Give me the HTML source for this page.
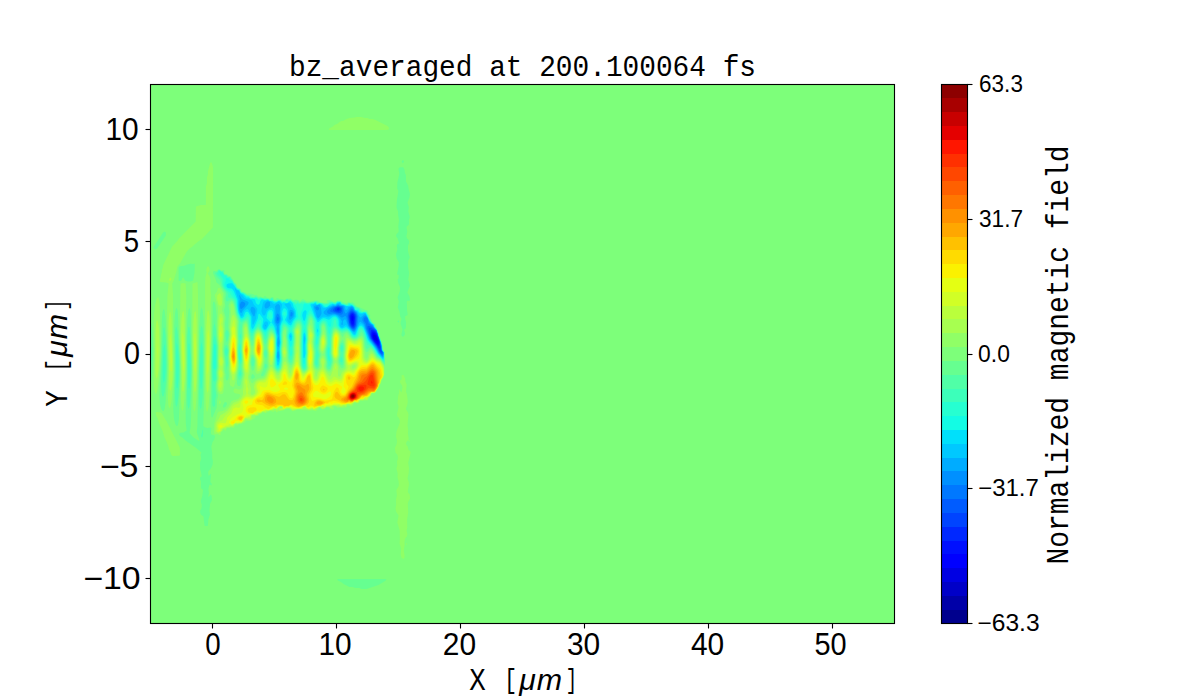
<!DOCTYPE html>
<html><head><meta charset="utf-8"><style>
html,body{margin:0;padding:0;background:#fff;width:1200px;height:700px;overflow:hidden}
svg{display:block}
</style></head><body>
<svg width="1200" height="700" viewBox="0 0 1200 700">
<rect width="1200" height="700" fill="#fff"/>
<defs><clipPath id="ax"><rect x="150.5" y="84.5" width="744" height="539"/></clipPath></defs>
<rect x="150.5" y="84.5" width="744" height="539" fill="#7dff7a"/>
<g clip-path="url(#ax)" fill-rule="evenodd" shape-rendering="geometricPrecision">
<path fill="#90ff66" d="M354.9 117.5 356.5 116.9 361.5 116.9 364.5 117.9 367.5 118.1 369.5 118.9 372.5 119.1 375.5 120.1 387.5 126.1 388.9 127.5 388.8 129.5 386.5 130.1 329.5 130.0 328.6 129.5 329.5 128.2 332.5 126.7 334.5 125.1 337.5 123.7 339.5 122.1 341.5 121.1 343.5 120.7 346.5 119.1 349.5 118.1ZM210.3 162.5 211.7 162.5 213.1 167.5 212.9 227.5 201.5 239.4 199.5 240.6 194.5 244.5 192.5 246.5 189.6 248.5 186.8 251.5 180.0 263.5 177.4 266.5 176.4 271.5 173.8 280.5 172.2 283.5 173.1 296.5 173.0 328.5 173.8 371.5 173.0 385.5 171.5 401.5 170.5 406.9 169.5 408.3 168.4 405.5 167.8 397.5 168.3 364.5 167.1 317.5 167.4 296.5 168.6 283.5 166.0 282.5 160.5 282.1 159.9 281.5 159.9 279.5 160.7 277.5 161.0 274.5 161.8 272.5 162.0 269.5 162.6 268.5 163.0 265.5 172.1 246.5 177.5 240.7 178.9 238.5 195.7 221.5 195.9 207.5 196.2 206.5 200.5 205.1 205.5 204.9 205.9 204.5 205.9 186.5 206.9 183.5 206.9 177.5 207.9 174.5 207.9 171.5ZM207.4 266.5 208.5 266.2 209.5 268.5 209.5 270.7 207.8 273.5 209.5 276.2 210.5 279.5 210.3 287.5 211.2 295.5 210.6 303.5 211.3 325.5 210.0 389.5 208.5 407.3 207.5 411.4 206.5 411.3 205.6 404.5 205.0 372.5 205.1 283.5 205.5 277.0 206.7 272.5 206.2 270.5 206.5 268.5ZM195.9 282.5 197.5 282.0 197.9 290.5 198.2 310.5 197.9 353.5 196.7 395.5 195.5 408.4 194.5 411.7 193.5 408.8 193.0 396.5 192.1 335.5 192.5 284.5 192.7 283.5ZM180.8 283.5 183.5 282.9 185.7 283.5 186.3 296.5 185.7 335.5 185.9 376.5 184.5 399.3 183.5 408.4 182.5 411.3 181.5 407.9 181.0 400.5 181.1 367.5 179.8 333.5 180.5 285.5ZM217.9 288.5 218.5 287.8 219.5 287.9 221.5 290.4 223.0 293.5 223.1 299.5 223.6 304.5 222.2 308.5 222.0 310.5 223.9 315.5 224.3 317.5 223.8 323.5 224.2 328.5 224.0 337.5 222.8 349.5 223.1 355.5 224.1 361.5 223.5 368.5 224.4 374.5 223.9 378.5 224.4 384.5 223.3 392.5 222.5 393.7 220.5 394.3 219.5 393.8 218.1 391.5 217.2 386.5 217.3 383.5 218.2 378.5 217.8 372.5 218.7 367.5 218.3 361.5 218.7 347.5 217.7 335.5 217.5 324.5 218.1 308.5 214.7 295.5 215.0 294.5 217.0 291.5ZM157.4 297.5 158.6 297.5 159.6 303.5 160.6 336.5 160.6 351.5 159.8 368.5 158.5 382.7 157.5 389.7 156.5 393.5 155.5 394.1 154.3 390.5 153.7 382.5 154.4 349.5 153.8 319.5 154.2 312.5 155.0 305.5 156.5 299.2ZM231.3 303.5 232.5 303.8 233.5 306.1 234.8 313.5 236.6 318.5 237.4 321.5 237.1 326.5 237.7 340.5 237.3 348.5 237.7 365.5 237.3 369.5 236.0 375.5 235.6 380.5 234.5 385.0 233.5 386.9 232.5 386.8 230.5 385.7 229.5 383.5 230.4 376.5 229.3 369.5 229.5 363.5 228.9 356.5 229.3 350.5 228.8 344.5 230.0 334.5 229.4 327.5 230.9 312.5 230.3 305.5ZM244.7 324.5 245.5 324.0 246.5 324.6 247.5 327.3 248.3 333.5 250.2 341.5 251.7 350.5 250.5 356.2 250.0 361.5 250.4 371.5 249.4 376.5 249.8 379.5 251.5 383.0 252.5 383.2 255.5 380.0 257.5 378.8 259.5 378.3 262.5 378.1 264.5 377.1 265.5 375.6 268.5 368.5 269.1 365.5 268.4 361.5 268.4 354.5 267.6 348.5 267.6 345.5 268.0 341.5 268.8 338.5 270.5 334.5 271.5 333.9 272.5 334.3 273.5 335.7 274.5 339.5 274.6 349.5 272.9 365.5 273.2 367.5 274.3 369.5 276.5 372.4 277.5 373.1 278.5 373.0 280.5 370.7 281.9 367.5 283.3 359.5 282.3 353.5 282.2 349.5 283.3 343.5 283.6 337.5 284.5 334.7 285.7 340.5 285.8 345.5 286.9 351.5 286.4 358.5 286.6 360.5 289.5 367.4 290.5 368.2 291.5 367.2 293.7 362.5 294.9 353.5 294.8 347.5 295.4 342.5 295.5 337.5 294.9 330.5 295.5 328.6 297.5 326.3 298.5 326.1 299.5 327.1 300.2 330.5 299.6 343.5 299.7 357.5 300.3 365.5 301.4 369.5 302.5 371.4 303.5 372.2 304.5 372.2 305.6 371.5 307.1 369.5 307.6 367.5 307.2 359.5 307.8 352.5 307.6 345.5 308.4 339.5 308.1 334.5 308.5 328.5 309.5 325.6 310.5 325.0 311.5 326.5 313.6 335.5 312.8 341.5 312.9 345.5 313.9 352.5 313.5 364.9 314.5 368.2 316.5 370.5 317.5 370.4 318.5 369.7 320.2 367.5 320.6 365.5 320.2 360.5 320.8 358.5 322.5 355.6 323.5 355.9 325.1 359.5 325.4 361.5 325.0 366.5 326.5 370.4 328.5 372.5 329.5 372.7 330.5 372.0 331.5 370.3 334.0 361.5 331.9 353.5 332.3 337.5 333.1 333.5 334.0 331.5 335.5 330.2 336.5 330.3 338.8 332.5 339.9 334.5 340.6 337.5 340.6 339.5 338.8 347.5 339.1 354.5 337.2 361.5 339.5 369.0 340.5 370.3 341.5 370.3 343.5 369.3 344.5 368.2 345.0 366.5 344.5 355.5 345.2 346.5 344.7 339.5 345.5 335.9 346.5 334.9 347.5 335.2 351.5 339.2 354.5 340.5 356.5 340.0 360.5 337.5 361.5 337.5 362.5 338.5 363.2 340.5 363.9 348.5 365.1 353.5 365.5 357.2 366.3 358.5 367.5 357.6 368.3 354.5 369.5 352.5 370.5 351.4 371.5 351.2 372.5 351.9 376.5 358.1 380.5 360.2 383.5 364.5 384.4 367.5 384.4 374.5 384.3 375.5 383.5 376.5 383.2 378.5 381.5 380.8 381.0 383.5 379.5 385.4 379.4 386.5 377.9 389.5 375.7 392.5 374.5 393.4 372.0 393.5 371.4 395.5 369.4 397.5 368.4 399.5 367.5 400.4 364.5 400.4 362.5 401.1 360.5 401.1 358.5 403.2 354.5 403.2 353.5 403.7 352.5 405.9 351.5 406.4 348.5 405.7 347.5 406.1 346.5 407.5 344.5 407.5 343.5 407.9 339.5 407.4 337.5 408.0 335.8 406.5 333.5 406.5 334.2 408.5 332.5 409.8 330.5 409.0 328.7 407.5 326.5 407.8 324.5 409.3 323.5 409.4 321.5 409.3 319.5 407.8 318.5 409.2 315.5 411.2 312.5 410.2 309.5 410.8 307.5 410.3 302.5 410.2 300.5 409.5 297.5 409.6 294.5 411.1 292.5 411.3 290.0 409.5 288.5 409.1 285.4 409.5 283.5 410.4 278.5 411.3 276.5 412.4 275.5 411.0 274.5 410.9 273.5 411.9 270.5 411.0 269.5 411.2 265.5 413.3 264.0 412.5 262.5 412.5 261.5 413.7 259.5 414.4 259.1 415.5 258.5 415.9 255.1 416.5 255.4 417.5 254.5 418.5 251.5 420.3 249.5 421.0 246.5 420.7 245.5 421.4 244.5 422.9 238.6 424.5 237.5 425.4 236.4 425.5 235.5 424.9 234.9 426.5 233.5 428.3 231.5 427.5 229.5 428.3 227.5 428.0 226.1 429.5 225.5 431.1 223.5 429.5 223.1 430.5 220.9 432.5 220.6 433.5 220.9 434.5 219.5 435.3 217.5 434.0 215.5 434.3 214.5 433.9 213.7 431.5 214.2 423.5 217.5 412.9 218.5 411.8 219.5 411.4 222.5 411.1 225.5 409.8 228.5 406.6 231.5 401.3 233.5 400.2 237.5 399.2 238.7 398.5 240.1 396.5 240.3 395.5 239.5 393.9 236.2 393.5 234.5 392.9 233.5 391.5 233.5 390.5 234.5 388.4 235.5 388.4 238.5 389.5 239.5 389.6 240.5 389.1 241.5 387.9 242.2 385.5 242.6 380.5 243.9 375.5 244.0 373.5 242.9 367.5 243.0 361.5 242.2 348.5 242.6 341.5 243.6 334.5 243.4 328.5 243.8 326.5ZM323.4 330.5 323.5 329.7 325.5 335.9 326.2 342.5 325.8 345.5 323.5 353.3 322.5 354.1 320.5 350.9 319.9 347.5 320.5 339.0ZM256.8 331.5 257.5 330.9 258.5 330.8 259.5 331.3 261.1 333.5 262.3 337.5 263.9 347.5 263.3 353.5 263.8 360.5 262.3 368.5 260.5 372.2 258.5 373.8 257.5 374.0 256.3 373.5 255.3 371.5 255.7 360.5 253.0 352.5 252.7 350.5 253.9 344.5 254.5 336.5 255.5 333.5ZM401.5 375.5 402.5 375.0 403.5 375.1 403.8 375.5 405.1 378.5 405.4 381.5 406.7 384.5 406.0 391.5 407.0 394.5 407.8 401.5 407.4 404.5 406.0 408.5 406.1 409.5 408.0 412.5 408.5 414.5 407.5 425.5 408.2 429.5 407.9 433.5 408.6 437.5 408.5 440.4 409.5 439.7 409.6 441.5 409.5 441.9 408.9 441.5 408.5 440.6 407.5 440.7 406.5 442.0 406.1 443.5 406.2 444.5 407.7 446.5 408.4 449.5 410.3 451.5 410.7 452.5 408.2 462.5 409.0 468.5 408.6 473.5 407.5 478.5 408.6 481.5 409.0 484.5 407.9 490.5 408.0 492.5 409.7 494.5 410.1 498.5 408.4 501.5 407.8 503.5 408.2 512.5 407.1 519.5 407.3 527.5 406.6 530.5 407.4 534.5 406.8 536.5 405.2 538.5 404.5 541.5 404.6 545.5 403.8 550.5 404.7 556.5 404.5 557.5 403.5 559.0 401.5 557.7 400.8 554.5 401.1 548.5 399.6 543.5 399.9 538.5 399.7 530.5 397.3 522.5 398.6 515.5 396.0 511.5 395.5 508.5 396.2 504.5 396.0 499.5 396.9 495.5 396.4 490.5 396.6 489.5 398.5 486.5 398.9 484.5 398.5 480.8 397.5 477.5 397.7 473.5 396.4 468.5 397.3 465.5 397.0 461.5 397.7 459.5 397.9 457.5 397.5 455.1 395.5 452.6 395.0 448.5 395.1 447.5 396.5 444.7 396.9 442.5 397.0 440.5 396.0 436.5 396.5 431.5 399.9 422.5 399.6 419.5 398.5 417.4 397.5 416.5 397.0 414.5 398.5 407.5 398.5 406.1 397.5 403.5 398.2 395.5 398.9 393.5 399.3 389.5 399.5 389.0 400.5 391.5 401.5 392.6 402.5 387.5 402.1 385.5 400.0 382.5 400.3 380.5 401.5 379.5 401.7 378.5ZM219.4 400.5 220.5 400.8 220.8 402.5 220.5 403.7 219.5 404.3 218.9 402.5ZM155.5 412.5 156.5 411.9 157.5 411.9 160.5 412.4 161.5 413.1 166.7 421.5 179.8 447.5 180.0 454.5 179.5 455.7 173.5 456.1 172.5 455.9 171.1 454.5 170.7 452.5 169.1 449.5 167.7 444.5 164.2 436.5 162.8 431.5 159.2 423.5 157.7 418.5 156.1 415.5ZM406.3 543.5 406.5 543.1 407.0 543.5 407.0 544.5 406.5 544.9 406.2 544.5Z"/>
<path fill="#a7ff50" d="M170.4 277.5 171.4 278.5 171.5 279.6 170.5 280.7 169.1 280.5 169.5 278.5ZM219.0 293.5 219.5 293.2 220.5 293.6 221.6 296.5 222.0 303.5 221.5 305.1 220.5 305.9 219.5 305.6 218.5 304.4 217.1 298.5 217.3 295.5ZM183.1 311.5 183.5 311.0 183.8 312.5 184.5 318.8 185.4 362.5 184.8 379.5 183.5 391.5 182.5 391.4 182.2 387.5 180.7 336.5 181.5 318.8 182.5 312.3ZM195.1 311.5 195.5 311.0 195.8 312.5 196.6 320.5 197.1 354.5 196.5 380.6 195.5 391.2 194.5 392.0 193.6 375.5 193.0 337.5 193.5 321.7 194.5 312.4ZM207.5 311.5 208.5 310.5 209.5 315.9 210.5 335.5 209.3 378.5 208.5 390.1 207.5 392.9 206.5 388.5 205.8 366.5 206.3 326.5ZM169.8 312.5 170.5 312.1 171.5 319.3 173.0 360.5 172.5 378.9 171.5 387.3 170.5 391.0 169.5 388.7 169.3 385.5 168.4 335.5 168.6 321.5 169.4 313.5ZM219.6 314.5 220.5 313.5 221.5 314.1 222.8 316.5 223.2 319.5 222.7 324.5 223.3 329.5 223.2 337.5 221.9 347.5 222.3 355.5 223.4 361.5 222.5 368.5 223.5 374.5 222.7 378.5 223.1 384.5 222.3 389.5 221.5 391.3 220.5 391.8 219.5 391.2 218.6 389.5 218.0 384.5 219.1 378.5 218.5 372.5 219.5 367.5 218.8 361.5 219.3 356.5 219.4 346.5 218.3 334.5 218.6 320.5ZM232.4 315.5 233.5 315.0 235.5 318.4 236.2 320.5 237.2 340.5 236.9 348.5 237.3 362.5 237.0 367.5 236.6 370.5 234.9 375.5 234.5 378.5 233.5 380.4 232.5 380.3 231.7 375.5 230.1 370.5 230.0 363.5 229.3 356.5 229.7 350.5 229.5 344.5 230.7 334.5 230.1 328.5 231.4 318.5ZM157.2 320.5 157.5 320.4 158.5 324.9 159.1 331.5 159.7 350.5 158.5 370.4 157.5 376.6 156.5 378.8 155.5 375.0 155.3 370.5 155.5 332.5 156.1 323.5 156.5 320.9ZM245.3 326.5 245.5 326.3 246.6 327.5 247.8 334.5 249.7 341.5 250.7 349.5 249.3 362.5 249.4 370.5 248.0 376.5 248.2 378.5 250.9 388.5 250.6 393.5 251.5 394.7 252.5 394.9 253.5 394.6 254.6 393.5 255.0 392.5 255.1 391.5 254.0 388.5 253.8 386.5 255.2 382.5 256.5 381.0 258.5 379.9 263.5 379.2 264.8 378.5 266.2 376.5 268.1 371.5 270.5 367.0 271.5 366.6 276.5 374.4 277.5 375.5 278.5 375.3 281.9 369.5 283.5 363.5 284.5 361.4 285.5 361.6 287.5 365.5 289.5 373.0 290.5 373.4 292.0 368.5 293.8 364.5 294.8 360.5 295.8 351.5 295.5 347.2 296.3 342.5 296.3 336.5 295.5 331.5 296.1 329.5 297.5 328.2 298.6 328.5 299.5 331.5 298.8 336.5 298.7 342.5 299.1 348.5 299.1 357.5 299.6 364.5 301.5 371.0 302.5 372.5 303.5 373.2 304.5 373.1 306.5 371.5 308.1 368.5 307.6 359.5 308.1 352.5 308.0 345.5 308.9 339.5 308.6 334.5 309.5 329.1 310.5 328.4 312.9 334.5 312.9 336.5 312.0 341.5 313.4 352.5 312.9 364.5 313.3 367.5 315.0 371.5 315.5 376.7 316.5 376.6 317.8 372.5 321.1 368.5 322.1 366.5 321.1 361.5 321.4 359.5 322.5 358.3 323.5 358.6 324.5 360.9 324.5 362.6 323.7 365.5 323.8 367.5 326.5 372.4 329.5 376.4 330.5 375.9 331.5 373.7 332.7 370.5 333.9 365.5 334.5 364.0 335.5 362.8 336.5 363.7 337.8 366.5 338.0 375.5 338.5 376.3 339.5 376.7 340.5 375.9 341.7 372.5 345.2 369.5 346.1 367.5 345.0 355.5 345.7 349.5 345.8 340.5 346.5 338.2 347.5 337.7 352.5 340.8 354.5 341.6 356.5 341.0 359.5 339.1 360.5 338.8 361.5 339.2 362.6 341.5 364.1 357.5 364.9 359.5 366.5 360.6 367.5 360.2 368.5 358.7 369.5 355.5 370.5 353.9 371.5 353.4 372.5 353.8 376.5 359.1 379.5 360.2 380.5 361.0 383.5 365.5 384.1 368.5 384.2 374.5 383.1 377.5 381.5 379.6 380.9 382.5 379.5 384.6 379.1 386.5 378.1 388.5 376.4 390.5 376.0 391.5 374.5 393.0 371.5 393.1 370.7 395.5 368.6 397.5 367.6 399.5 366.5 400.1 364.5 399.5 362.5 400.3 360.5 400.1 359.8 400.5 358.5 402.4 357.5 402.9 354.5 402.2 353.8 402.5 351.5 405.2 348.5 404.3 347.1 404.5 346.3 405.5 346.2 406.5 345.5 406.8 344.5 405.7 343.5 405.6 342.7 406.5 340.5 406.9 333.5 405.5 331.8 406.5 331.5 408.2 329.5 406.9 328.5 406.9 326.5 407.1 324.5 408.5 322.5 409.0 321.5 408.5 320.8 407.5 319.5 407.0 317.5 408.5 314.5 409.9 313.5 410.0 312.5 409.2 311.5 409.2 309.5 410.0 304.5 408.9 302.5 409.3 297.5 409.2 292.5 410.5 289.9 408.5 288.5 408.3 282.5 410.0 279.5 410.4 278.7 409.5 278.5 408.4 277.5 410.0 276.5 410.4 276.0 409.5 274.5 409.3 272.5 410.3 269.5 410.4 268.5 411.0 266.5 411.3 265.5 412.6 263.5 411.7 262.5 411.9 260.5 413.3 259.0 413.5 257.5 415.3 252.1 415.5 251.5 416.4 251.4 417.5 251.9 418.5 250.5 419.4 249.5 419.6 245.5 418.6 244.5 421.1 241.5 423.2 239.5 423.4 237.5 424.2 235.5 423.6 234.4 424.5 234.2 425.5 233.5 426.3 229.5 427.3 227.5 427.2 226.6 427.5 225.5 428.7 223.5 428.4 222.3 429.5 222.0 430.5 221.1 431.5 218.5 433.2 215.5 431.5 215.5 424.5 216.0 422.5 219.0 418.5 220.1 415.5 224.5 413.0 227.5 410.7 231.5 404.9 233.5 402.7 237.5 401.2 239.5 399.9 241.5 397.5 243.1 394.5 243.0 390.5 243.7 386.5 243.6 381.5 245.0 374.5 243.5 367.5 243.5 361.5 242.6 349.5 243.0 341.5 244.3 334.5 244.4 328.5ZM281.5 406.5 280.5 406.8 279.9 407.5 281.5 408.1 281.9 407.5ZM352.5 365.5 351.9 367.5 352.5 368.4 353.5 368.6 354.5 368.1 355.7 366.5 355.5 365.1 354.5 364.5ZM335.2 331.5 336.5 331.4 338.5 333.4 339.4 335.5 339.9 338.5 338.4 347.5 338.3 355.5 336.5 359.6 335.5 360.4 333.5 357.6 332.4 353.5 332.8 337.5 333.7 333.5ZM257.0 332.5 258.5 331.9 259.5 332.4 260.9 334.5 262.0 338.5 263.3 347.5 262.8 353.5 263.1 359.5 262.8 362.5 261.2 368.5 260.0 370.5 258.5 371.5 257.5 371.4 256.8 369.5 256.1 359.5 254.1 353.5 253.7 350.5 254.9 337.5 255.7 334.5ZM323.5 334.5 324.5 335.5 325.1 337.5 325.7 342.5 324.5 347.5 323.5 350.2 322.5 351.2 321.5 350.6 320.7 348.5 320.7 341.5 321.5 337.3 322.5 335.2ZM270.5 336.5 271.5 335.5 272.5 335.8 273.6 337.5 274.1 340.5 274.1 350.5 272.9 360.5 271.5 365.3 270.5 364.9 269.5 361.8 269.0 353.5 268.1 347.5 268.8 340.5ZM284.4 346.5 285.5 348.4 286.3 352.5 285.5 357.0 284.5 357.8 283.5 356.1 282.7 351.5 283.5 347.2Z"/>
<path fill="#baff3c" d="M220.3 318.5 220.5 318.0 221.5 318.1 221.6 318.5 221.7 320.5 221.0 324.5 222.3 328.5 222.5 330.5 222.4 337.5 221.5 341.6 220.5 343.0 219.5 339.5 219.0 335.5 219.4 327.5 220.1 324.5 220.0 320.5ZM233.2 320.5 233.5 319.9 234.5 320.5 235.8 328.5 236.0 334.5 236.7 340.5 236.5 347.5 237.0 360.5 235.9 370.5 234.5 373.6 233.5 374.4 232.5 373.9 230.9 370.5 229.7 356.5 230.1 344.5 231.3 334.5 231.0 328.5ZM208.4 329.5 209.4 337.5 209.4 352.5 208.5 370.0 207.5 374.8 206.9 366.5 206.8 352.5 207.5 333.0ZM297.1 330.5 297.5 330.2 298.5 331.5 298.5 332.5 297.5 334.4 296.5 332.5 296.5 331.4ZM310.0 332.5 310.5 331.9 311.5 332.9 312.3 335.5 310.9 340.5 312.8 352.5 312.4 366.5 313.8 371.5 314.2 377.5 314.5 378.4 315.5 379.4 316.5 379.3 317.5 378.2 318.9 373.5 320.0 371.5 321.5 370.0 322.5 369.6 323.5 370.0 324.5 371.2 328.2 378.5 329.5 379.8 331.1 379.5 333.5 376.8 334.5 376.4 338.5 378.8 339.5 379.1 341.0 378.5 341.7 377.5 342.9 373.5 346.9 369.5 347.8 367.5 346.3 362.5 345.5 356.5 346.5 342.5 347.0 340.5 347.5 339.7 348.5 339.4 354.5 342.9 355.5 342.8 359.2 340.5 360.5 340.3 361.5 341.3 361.8 342.5 362.9 352.5 363.1 357.5 364.1 360.5 365.5 361.6 366.5 361.9 367.5 361.5 369.2 359.5 370.5 356.5 371.5 355.5 372.5 355.7 376.5 360.0 379.5 361.0 380.5 361.8 383.5 366.8 383.9 374.5 382.8 377.5 381.3 379.5 380.2 383.5 379.3 384.5 378.8 386.5 375.5 391.7 374.5 392.6 371.5 392.7 370.2 395.5 367.8 397.5 366.5 399.6 365.5 398.7 364.5 398.7 362.5 399.8 360.5 399.6 359.2 400.5 358.8 401.5 357.5 402.4 354.5 401.7 350.5 404.3 347.5 404.0 345.5 405.2 343.5 405.0 341.5 406.1 340.5 406.2 338.5 405.1 336.5 405.4 333.5 405.1 330.5 406.4 326.5 406.6 324.5 407.9 322.5 408.5 321.4 407.5 319.5 406.5 317.5 408.0 315.7 408.5 314.5 409.3 313.5 409.4 312.5 408.5 311.5 408.4 309.5 409.4 308.5 409.3 306.4 408.5 305.5 407.2 304.5 406.8 303.2 407.5 302.9 408.5 301.5 408.9 297.5 408.9 292.5 409.8 289.5 407.9 287.5 407.8 284.5 409.0 280.5 409.8 279.7 409.5 280.5 408.5 281.5 409.2 282.5 407.5 281.9 406.5 280.5 406.3 278.5 407.4 276.5 409.2 274.5 408.8 272.5 409.8 270.5 409.8 267.5 410.7 266.5 410.3 265.5 411.1 262.5 411.4 260.5 412.9 258.5 413.2 257.5 414.6 256.5 415.0 253.5 414.7 251.5 415.2 250.5 418.1 248.5 417.6 247.5 418.1 245.5 418.1 244.5 419.2 244.2 420.5 241.5 422.8 237.5 423.6 235.5 423.2 233.9 424.5 233.5 425.5 232.5 425.9 230.5 425.7 229.5 426.6 226.5 426.8 223.5 427.9 221.4 429.5 221.2 430.5 219.5 431.8 218.5 432.1 217.1 431.5 216.9 430.5 217.3 429.5 216.5 425.5 217.5 422.8 218.5 422.0 222.1 420.5 224.6 416.5 229.5 411.5 232.5 406.4 234.5 404.8 238.5 402.9 245.8 394.5 246.4 393.5 245.6 389.5 246.3 386.5 245.0 382.5 245.5 379.3 246.5 379.1 247.5 381.5 247.4 386.5 248.6 389.5 247.8 393.5 250.5 396.1 251.5 396.5 253.5 396.0 255.4 394.5 256.5 392.5 256.5 390.5 255.5 386.5 255.8 384.5 256.5 382.9 257.5 381.8 259.5 380.9 263.5 380.6 265.5 379.7 266.8 377.5 269.2 371.5 270.5 369.6 271.5 369.3 272.5 370.0 274.3 372.5 276.5 377.6 277.5 378.6 278.5 378.8 279.5 378.0 280.6 373.5 284.5 365.0 285.5 364.8 286.5 366.8 288.7 374.5 289.5 375.8 290.5 375.9 291.6 374.5 292.9 368.5 295.0 363.5 296.5 354.1 297.5 351.6 299.0 364.5 301.1 371.5 302.5 373.8 303.5 374.4 304.5 374.2 306.5 372.4 308.0 370.5 308.9 368.5 308.0 358.5 308.5 352.5 308.5 344.6 309.8 340.5 309.2 334.5ZM322.5 406.3 322.2 406.5 322.5 406.9 323.0 406.5ZM354.5 363.3 352.0 364.5 350.1 366.5 349.8 367.5 350.0 368.5 351.5 369.9 353.5 370.1 355.5 368.7 356.5 367.3 357.0 365.5 356.9 364.5 355.9 363.5ZM335.4 332.5 336.5 332.4 337.7 333.5 338.7 335.5 339.2 338.5 337.9 348.5 337.9 354.5 336.8 357.5 335.5 358.5 334.5 357.9 333.5 356.2 332.9 352.5 333.3 337.5 334.0 334.5ZM170.4 333.5 171.5 342.5 171.9 352.5 172.0 362.5 171.5 371.6 170.5 370.5 169.7 348.5 169.6 339.5ZM182.4 333.5 182.5 332.5 183.5 336.2 184.4 357.5 184.3 365.5 183.5 373.9 182.5 361.3 182.0 348.5 182.0 340.5ZM257.2 333.5 258.5 333.0 259.5 333.6 260.5 335.2 261.7 339.5 262.9 347.5 262.1 362.5 260.5 367.5 259.5 368.6 258.5 368.7 257.5 366.9 256.7 359.5 254.7 353.5 254.3 350.5 255.4 337.5 256.4 334.5ZM194.4 334.5 194.5 333.6 195.5 333.8 196.1 345.5 196.1 359.5 195.5 373.0 194.5 368.9 194.3 363.5 194.0 346.5ZM245.4 334.5 245.5 334.0 246.5 333.8 248.5 338.9 249.4 342.5 250.2 349.5 248.7 363.5 248.5 369.5 247.5 372.3 246.5 372.8 245.5 371.5 244.1 367.5 244.0 362.5 242.9 350.5 243.5 341.5ZM271.0 337.5 271.5 337.0 272.5 337.2 273.5 339.2 273.7 340.5 273.6 350.5 272.5 358.2 271.5 360.8 270.5 360.1 270.4 359.5 268.6 347.5 269.4 340.5ZM322.3 337.5 323.5 336.5 324.2 337.5 325.0 341.5 324.5 345.3 323.5 347.7 322.5 348.8 321.5 347.6 321.3 342.5 321.5 339.5ZM157.5 343.5 157.9 349.5 157.5 358.6 157.2 352.5ZM297.2 346.5 297.5 346.1 297.8 347.5 297.5 351.3 296.8 347.5ZM283.8 350.5 284.5 349.8 285.4 352.5 284.5 354.8 283.5 352.7ZM220.3 357.5 220.5 356.6 221.5 357.1 222.5 360.5 222.5 363.1 221.5 365.8 220.5 365.7 219.6 362.5 219.5 360.5ZM335.2 366.5 335.5 366.1 336.2 367.5 335.5 369.5 334.7 368.5ZM220.1 370.5 220.5 369.8 221.5 370.4 222.5 373.5 221.9 376.5 221.5 377.3 220.5 377.8 219.5 375.8 219.2 373.5 219.5 371.5ZM220.4 380.5 221.5 381.7 221.8 383.5 221.5 386.1 220.5 388.3 219.5 387.3 219.1 384.5 219.5 381.8Z"/>
<path fill="#d1ff26" d="M233.1 326.5 233.5 326.1 234.5 327.0 234.9 328.5 235.1 333.5 236.2 339.5 236.6 359.5 235.5 369.5 234.5 371.8 233.5 372.4 232.5 371.9 231.4 369.5 230.0 356.5 230.6 344.5 232.2 333.5 231.8 329.5 232.3 327.5ZM220.4 331.5 220.5 331.0 221.0 332.5 221.5 335.5 220.5 337.6 220.1 335.5ZM257.5 334.5 258.5 334.2 259.5 334.9 260.5 336.9 262.3 346.5 261.8 360.5 260.5 365.1 259.5 366.2 258.5 365.8 258.0 364.5 257.3 359.5 255.5 354.5 254.9 351.5 255.7 338.5 256.5 335.9ZM310.5 334.5 311.1 335.5 310.5 337.1 310.2 335.5ZM334.8 334.5 335.5 333.7 336.5 333.6 337.4 334.5 338.3 336.5 338.6 338.5 337.4 348.5 337.4 354.5 336.5 356.6 335.5 357.2 334.5 356.5 333.4 353.5 333.6 338.5ZM245.3 337.5 245.5 337.1 246.5 336.7 247.5 338.0 248.5 340.5 249.7 349.5 247.6 368.5 246.5 370.0 245.5 369.1 245.0 367.5 243.2 350.5 244.0 341.5ZM271.4 338.5 272.5 338.8 273.0 340.5 273.3 348.5 272.5 353.5 271.5 356.4 270.5 354.4 269.2 347.5 269.8 341.5 270.5 339.5ZM322.4 339.5 323.5 338.7 324.3 341.5 323.5 345.0 322.5 345.3 322.1 342.5ZM348.0 341.5 348.5 341.0 349.5 341.1 353.0 343.5 354.5 344.1 356.5 343.9 359.5 342.1 360.5 342.5 361.1 344.5 362.0 351.5 362.2 358.5 363.4 361.5 365.5 362.8 366.5 363.0 367.5 362.6 369.5 360.6 371.5 357.7 372.5 357.5 376.5 361.0 379.5 361.9 380.5 362.8 383.5 368.4 383.7 374.5 382.5 377.5 381.1 379.5 379.9 383.5 379.0 384.5 377.5 388.5 374.5 392.4 371.4 392.5 370.6 393.5 369.9 395.5 368.5 396.6 366.5 397.9 366.3 397.5 365.5 397.2 364.7 397.5 363.5 399.1 360.0 399.5 358.6 400.5 358.3 401.5 357.5 402.0 356.5 402.1 355.5 401.4 354.5 401.4 350.5 403.9 347.5 403.6 345.5 404.5 343.5 404.5 341.5 405.4 340.5 405.2 339.5 404.4 338.5 404.3 336.5 404.8 333.5 404.7 330.5 405.7 326.5 405.9 324.5 407.3 323.5 406.2 322.5 405.8 321.5 406.6 318.9 406.5 314.5 408.9 313.5 408.9 312.5 407.7 311.5 407.8 309.5 408.9 308.5 408.9 306.5 408.0 305.5 406.4 304.5 406.3 303.5 406.7 301.5 408.5 299.5 408.4 292.5 409.0 291.5 408.6 290.5 407.6 287.5 407.4 286.5 407.5 285.0 408.5 283.5 408.8 282.8 408.5 282.8 407.5 282.3 406.5 280.5 406.1 279.2 406.5 276.5 408.8 273.5 408.4 272.5 409.2 268.5 410.2 265.5 410.1 264.5 410.7 262.5 411.1 260.4 412.5 257.5 412.9 256.5 414.5 255.5 414.6 254.5 414.0 251.5 414.6 250.5 415.5 250.5 416.5 248.5 416.4 247.5 417.2 245.5 417.6 244.5 418.3 243.4 420.5 241.5 422.4 237.5 423.1 235.5 422.9 232.5 425.3 231.5 425.3 229.5 424.3 228.9 424.5 228.1 425.5 225.5 425.8 225.0 426.5 221.0 428.5 220.1 429.5 220.3 430.5 219.5 431.0 218.5 430.7 218.8 429.5 217.7 426.5 217.7 425.5 218.5 423.9 220.5 423.1 225.5 423.3 226.4 421.5 227.2 417.5 231.2 413.5 233.4 408.5 235.5 407.5 238.5 407.8 239.6 407.5 240.3 406.5 240.6 403.5 241.2 401.5 243.5 398.5 246.5 396.6 248.5 396.7 251.5 397.8 252.5 397.7 254.5 396.6 256.7 394.5 258.1 391.5 257.0 386.5 257.5 384.1 259.5 382.3 264.5 382.5 265.5 382.1 267.2 379.5 269.5 373.4 270.5 371.7 271.5 371.3 272.5 371.8 275.6 378.5 277.5 380.3 278.5 380.5 279.5 380.3 280.5 379.3 281.5 373.5 282.5 371.4 284.5 369.0 285.5 369.3 286.5 371.1 288.5 376.9 289.5 377.8 290.5 377.7 291.5 376.6 292.4 374.5 294.1 367.5 296.5 362.1 297.5 362.1 301.5 373.7 302.5 375.4 303.5 375.9 304.5 375.3 308.1 371.5 310.0 368.5 310.1 367.5 308.6 362.5 308.4 359.5 309.5 343.9 310.5 343.9 312.1 351.5 312.3 357.5 311.2 367.5 312.8 371.5 313.5 378.4 314.5 380.6 315.5 381.2 316.5 381.1 317.5 380.4 318.6 378.5 320.5 373.0 321.5 371.9 322.5 371.6 323.5 372.1 324.5 373.4 327.5 380.1 328.5 381.4 329.5 382.0 331.5 381.7 334.5 379.8 336.5 379.8 339.5 380.9 340.5 380.9 341.5 380.4 342.5 378.8 343.7 374.5 345.1 372.5 348.5 370.6 352.5 371.8 353.5 371.7 356.7 368.5 358.1 365.5 357.8 363.5 356.5 362.3 355.5 362.2 353.5 362.7 349.5 364.9 348.5 364.9 347.5 363.7 346.5 360.5 346.0 356.5 347.3 343.5Z"/>
<path fill="#e4ff13" d="M233.5 330.5 233.5 330.2 233.5 330.5 233.5 330.7ZM233.5 334.5 234.5 335.4 235.6 339.5 236.3 359.5 236.1 362.5 234.9 368.5 234.5 369.9 233.5 370.7 232.5 370.0 232.0 368.5 230.4 355.5 231.7 339.5 232.5 336.2ZM335.1 335.5 335.5 335.0 336.5 335.0 337.0 335.5 337.8 337.5 338.0 339.5 336.8 348.5 336.8 353.5 336.5 354.9 335.5 355.8 334.5 355.1 334.0 352.5 334.1 339.5 334.5 336.7ZM257.1 336.5 257.5 335.9 258.5 335.5 259.6 336.5 260.5 338.9 261.9 346.5 261.1 359.5 260.5 362.3 259.5 363.6 258.5 361.8 258.1 359.5 256.0 354.5 255.4 351.5 255.3 348.5 256.1 339.5ZM246.2 338.5 246.5 338.4 247.5 339.5 248.2 341.5 249.2 350.5 248.2 359.5 246.5 365.5 245.5 363.3 244.5 359.1 243.6 350.5 244.5 341.2 245.5 338.8ZM271.3 340.5 271.5 340.2 271.8 340.5 272.3 341.5 272.7 348.5 272.5 350.5 271.5 352.3 270.5 351.2 269.9 347.5 270.5 342.2ZM348.5 343.5 349.5 342.8 354.5 345.3 359.5 344.8 360.5 346.8 361.2 350.5 361.2 360.5 362.5 362.7 363.7 363.5 366.5 364.1 368.5 362.9 371.5 359.5 372.5 359.1 373.5 359.5 376.5 362.1 379.5 363.1 380.5 364.2 382.6 368.5 383.4 374.5 382.5 377.0 380.4 380.5 379.7 383.5 378.8 384.5 378.3 386.5 375.2 391.5 374.5 392.2 371.1 392.5 370.2 393.5 369.5 395.5 367.5 396.8 364.5 397.2 363.5 398.7 362.5 399.1 360.5 399.0 359.3 399.5 358.1 400.5 357.5 401.6 356.5 401.7 354.5 401.1 350.5 403.4 347.5 403.3 345.5 404.2 343.5 404.2 341.5 404.7 339.5 403.9 334.5 403.8 331.5 404.9 326.5 404.9 325.5 406.2 324.5 406.7 323.5 405.6 322.5 405.3 321.5 406.1 318.5 406.3 314.5 408.6 313.5 408.4 312.5 407.2 310.5 407.4 309.5 408.3 308.5 408.5 306.6 407.5 305.5 406.1 304.5 406.1 303.1 406.5 301.5 408.0 294.5 408.5 293.5 407.8 292.5 408.0 291.5 407.6 290.5 406.4 288.5 407.2 286.5 407.1 284.5 408.3 283.5 408.4 282.5 406.3 281.5 405.9 279.5 406.0 276.5 408.3 273.5 407.6 272.5 408.7 268.5 409.9 265.5 409.5 259.5 412.2 257.5 411.7 253.5 413.9 250.5 414.3 249.5 415.1 246.5 415.5 246.0 416.5 243.8 418.5 242.8 420.5 241.5 421.9 240.5 422.1 239.5 421.6 237.5 422.5 236.5 422.1 232.5 424.6 231.5 424.6 229.7 423.5 228.9 422.5 229.6 420.5 232.0 417.5 237.5 414.2 241.8 412.5 242.5 411.4 243.5 407.5 242.3 402.5 243.2 400.5 244.1 399.5 246.5 398.2 248.5 398.5 250.5 399.3 252.5 399.1 257.2 395.5 259.1 393.5 259.5 392.5 259.9 390.5 259.7 386.5 260.5 385.7 261.5 386.7 263.5 387.5 265.5 387.6 267.1 386.5 268.6 379.5 270.5 375.0 271.5 374.3 272.5 375.3 274.2 378.5 276.5 381.2 277.5 381.9 279.5 381.9 280.5 381.2 281.8 379.5 282.5 373.5 283.5 371.9 284.5 371.3 285.8 372.5 288.1 378.5 289.5 379.6 290.5 379.5 291.5 378.4 292.5 376.4 294.5 368.1 296.5 365.0 297.5 365.3 298.5 367.2 302.5 378.0 303.5 378.0 308.5 372.0 310.5 370.6 311.5 371.3 312.0 372.5 312.8 378.5 313.5 381.1 314.5 382.4 315.5 382.9 316.5 382.9 318.3 381.5 320.8 375.5 321.5 374.3 322.5 373.9 323.5 374.4 324.5 375.7 326.7 381.5 328.5 383.4 330.5 383.9 331.5 383.7 335.5 381.6 337.5 381.9 340.5 383.1 341.5 383.0 342.8 381.5 344.4 375.5 345.5 373.5 346.5 372.7 348.5 372.0 353.5 373.4 354.5 372.7 357.7 368.5 359.3 365.5 359.1 362.5 357.5 361.2 355.5 361.1 349.5 363.5 348.5 363.2 347.5 361.7 346.7 358.5 346.6 355.5ZM310.3 349.5 310.5 349.1 311.4 352.5 311.7 356.5 311.5 359.9 310.5 364.1 309.5 363.3 309.0 359.5ZM219.5 425.5 220.5 425.1 221.5 425.2 222.2 425.5 222.7 426.5 221.5 427.7 219.5 427.6 219.2 426.5Z"/>
<path fill="#fbf100" d="M233.3 337.5 233.5 337.2 234.5 338.0 235.0 340.5 236.0 358.5 235.5 363.3 234.5 366.4 233.5 368.1 232.5 365.7 231.5 361.6 230.8 356.5 232.4 339.5ZM257.4 337.5 258.5 337.0 259.5 338.0 261.5 346.5 261.5 350.4 260.7 356.5 260.5 357.9 259.5 359.5 256.6 354.5 255.8 351.5 255.7 348.5 256.5 340.5ZM335.1 337.5 335.5 336.7 336.5 336.6 337.3 339.5 336.5 346.7 335.7 349.5 335.5 353.8 335.1 352.5 335.2 349.5 334.5 345.5ZM245.4 340.5 246.5 339.9 247.5 341.1 248.8 349.5 247.8 358.5 247.5 359.9 246.5 361.5 245.5 360.6 245.2 359.5 244.0 351.5 244.7 343.5ZM349.4 345.5 350.5 345.1 354.5 346.3 358.5 346.6 359.5 347.6 360.4 351.5 359.7 356.5 359.0 358.5 358.5 359.0 355.5 359.9 351.5 361.9 349.5 362.3 348.5 361.7 347.9 360.5 347.1 356.5 348.5 347.7ZM271.3 347.5 271.5 347.0 271.6 347.5 271.6 348.5 271.5 349.1 271.2 348.5ZM310.3 356.5 310.5 356.0 310.7 357.5 310.5 359.8 310.0 358.5ZM371.0 361.5 372.5 360.6 373.5 360.8 377.5 364.1 379.5 364.9 380.5 366.2 382.3 370.5 382.8 374.5 382.5 376.4 380.1 380.5 379.5 383.4 378.6 384.5 378.1 386.5 377.1 388.5 374.5 392.0 371.5 392.1 369.9 393.5 369.5 394.7 367.5 396.4 364.5 396.9 363.5 398.2 362.5 398.7 360.5 398.7 358.7 399.5 356.5 401.3 354.5 400.8 352.5 402.3 350.5 403.1 348.5 402.9 344.5 403.9 341.5 404.0 338.5 403.1 334.5 402.7 331.5 403.9 330.5 403.2 329.5 403.2 327.5 404.1 325.5 403.9 324.4 404.5 324.9 405.5 324.5 405.7 323.5 405.1 322.5 405.0 320.5 406.0 318.5 406.0 314.5 408.0 312.5 406.7 310.5 406.7 308.5 407.8 307.5 407.7 305.5 405.8 303.5 406.1 301.5 407.4 298.5 408.0 292.5 407.0 291.5 406.0 290.5 405.9 288.5 406.9 286.5 406.7 284.5 407.9 283.5 407.6 282.5 406.0 279.5 405.7 277.8 406.5 276.5 407.8 275.5 407.9 273.5 407.1 268.5 409.6 267.5 409.6 266.5 408.9 263.5 409.3 262.1 410.5 259.6 411.5 257.5 410.9 255.5 412.1 254.5 412.2 253.5 413.5 250.5 413.7 249.5 414.1 247.5 413.5 245.8 411.5 245.6 409.5 246.5 407.1 247.5 406.0 252.2 404.5 252.6 401.5 253.1 400.5 256.5 397.2 260.5 395.0 262.3 391.5 263.5 390.5 269.5 389.7 272.7 391.5 275.5 391.9 278.1 391.5 279.5 390.5 280.1 389.5 279.9 388.5 278.1 385.5 278.5 384.5 281.5 382.1 282.7 380.5 283.4 378.5 283.5 374.8 284.5 373.8 285.5 375.2 285.9 377.5 286.9 379.5 289.5 381.9 290.5 382.0 291.1 381.5 293.1 376.5 294.7 369.5 295.5 367.8 296.5 366.8 297.5 367.1 298.5 369.1 300.4 374.5 301.5 379.5 302.5 380.3 303.5 380.2 304.5 379.2 306.4 375.5 308.5 373.0 309.5 372.4 310.5 372.3 311.5 374.0 312.6 381.5 313.5 383.3 315.5 385.2 317.5 385.1 318.5 384.3 319.7 382.5 321.5 377.5 322.5 376.6 323.8 377.5 325.9 383.5 327.5 385.0 329.5 385.9 331.5 386.1 335.5 383.8 336.5 383.6 338.5 384.4 341.9 386.5 342.3 387.5 341.4 389.5 341.2 391.5 341.5 392.5 342.5 393.5 343.5 393.7 345.0 392.5 345.7 390.5 345.5 389.0 343.5 386.5 345.1 376.5 346.0 374.5 347.4 373.5 348.5 373.2 349.8 373.5 352.5 374.9 353.5 375.1 354.5 374.8 357.2 370.5 361.5 365.2 366.5 365.3ZM285.5 387.5 283.8 388.5 284.5 389.4 286.5 389.8 288.1 389.5 288.2 388.5 286.5 387.5ZM315.5 390.9 313.9 392.5 312.9 394.5 313.3 396.5 314.5 397.3 318.5 397.5 323.5 399.0 325.5 399.2 327.3 398.5 329.5 396.9 330.5 395.8 331.0 394.5 331.2 392.5 330.5 391.4 329.5 391.5 325.5 394.2 323.5 394.4 321.5 393.9 317.5 391.1 316.5 390.7ZM270.5 379.5 271.5 378.6 272.5 379.0 275.5 382.5 276.3 384.5 273.5 386.7 271.5 387.4 270.5 386.8 270.0 384.5 270.0 381.5ZM245.7 400.5 247.2 400.5 248.2 401.5 248.1 402.5 246.5 403.8 245.5 403.7 244.4 402.5 244.5 401.5ZM238.3 415.5 240.5 414.8 242.5 414.8 243.8 415.5 244.5 416.5 241.5 421.5 236.5 420.7 235.5 421.0 235.0 422.5 233.5 423.6 232.5 423.9 231.1 423.5 230.5 422.5 230.9 421.5 232.5 420.4 234.8 419.5 236.8 416.5Z"/>
<path fill="#ffdb00" d="M257.5 339.5 258.5 338.7 259.5 340.1 261.0 346.5 260.7 353.5 259.5 356.8 258.5 356.5 257.5 355.1 256.3 351.5 256.2 347.5ZM233.4 341.5 234.5 345.8 235.4 353.5 235.6 358.5 235.1 362.5 234.5 364.0 233.5 364.7 232.5 363.2 231.7 360.5 231.1 355.5 232.3 346.5ZM245.6 342.5 246.5 341.6 247.0 342.5 248.3 349.5 247.5 356.4 246.5 359.3 245.5 358.2 244.4 351.5 244.4 348.5ZM349.9 347.5 351.5 346.9 357.5 348.0 358.9 349.5 359.3 351.5 358.7 354.5 357.5 356.8 354.0 359.5 350.5 361.2 349.5 361.0 348.5 360.0 347.7 356.5 348.5 351.3ZM371.3 362.5 372.5 361.9 374.2 362.5 380.1 368.5 381.1 370.5 382.1 375.5 381.6 377.5 380.2 379.5 379.5 382.7 378.3 384.5 377.9 386.5 374.5 391.8 371.5 391.9 367.5 395.9 364.5 396.5 362.5 397.7 361.5 397.2 360.3 398.5 358.2 399.5 356.5 400.9 354.5 400.6 352.5 402.1 350.5 402.8 348.5 402.6 344.5 403.6 341.5 403.2 338.5 401.8 333.5 400.8 331.9 401.5 329.5 401.7 327.5 403.3 325.5 403.1 323.5 404.5 320.5 405.8 318.5 405.7 314.5 407.2 312.5 405.7 310.5 405.6 308.5 406.9 307.5 406.9 305.5 405.5 303.5 405.8 299.5 407.5 297.5 407.7 293.5 406.5 291.5 405.2 290.5 405.3 288.5 406.6 286.5 406.3 284.5 407.5 282.5 405.7 279.5 405.2 277.5 405.6 276.5 407.0 275.5 407.5 273.5 406.6 268.5 409.1 267.0 408.5 266.5 407.8 264.9 407.5 264.2 406.5 262.5 405.3 256.5 404.2 255.0 402.5 254.9 400.5 256.4 398.5 258.5 397.5 261.5 397.3 262.5 396.4 264.5 392.5 266.5 391.7 268.5 391.7 273.5 393.4 277.5 393.8 282.5 391.9 284.5 391.9 286.5 392.6 287.5 393.5 289.5 397.5 290.5 398.1 291.5 398.1 292.3 397.5 293.5 394.6 294.0 391.5 292.1 385.5 294.8 371.5 295.5 369.5 296.5 368.5 297.5 368.9 298.5 370.9 299.7 374.5 300.1 379.5 300.5 380.5 301.5 381.6 303.5 381.9 304.5 381.3 307.5 375.2 309.5 373.7 310.7 374.5 311.6 381.5 313.4 387.5 312.7 390.5 310.4 394.5 310.4 396.5 311.8 400.5 312.5 401.0 317.5 398.9 319.5 399.0 325.5 400.7 331.5 399.5 332.3 398.5 333.0 394.5 333.9 391.5 336.5 387.6 337.5 387.5 338.5 388.3 339.9 392.5 341.5 394.8 343.5 395.1 344.5 394.8 345.8 393.5 348.0 388.5 348.6 386.5 347.0 384.5 346.3 382.5 346.1 377.5 346.7 375.5 348.4 374.5 349.5 374.7 353.5 377.2 354.5 377.1 355.5 376.1 357.6 371.5 360.5 368.1 362.5 367.1 366.5 366.8ZM362.5 396.5 362.5 396.5 362.5 396.5 362.5 396.5ZM284.3 381.5 285.5 381.2 286.9 382.5 287.2 383.5 286.6 384.5 283.5 384.9 282.5 384.5 282.7 383.5ZM321.2 386.5 322.5 385.6 323.5 385.5 327.1 387.5 327.7 388.5 327.6 389.5 326.3 391.5 325.0 392.5 323.5 392.8 322.4 392.5 321.0 391.5 319.9 389.5 319.9 388.5ZM250.1 407.5 253.5 407.2 255.5 407.6 256.4 408.5 256.7 409.5 256.3 410.5 254.5 411.5 252.5 413.3 249.0 412.5 247.9 411.5 247.6 409.5 248.5 408.3ZM238.4 416.5 239.5 416.0 241.5 415.7 243.3 416.5 243.5 417.5 241.5 420.7 240.5 420.8 237.4 419.5 237.2 418.5 237.5 417.5ZM232.5 422.5 232.5 422.5 233.5 422.0 234.0 422.5 233.5 422.7 232.5 422.5Z"/>
<path fill="#ffc100" d="M258.3 341.5 258.5 341.2 259.5 342.7 260.5 346.1 260.7 348.5 260.0 353.5 259.5 354.8 258.5 355.0 257.4 353.5 256.6 349.5 257.5 343.3ZM246.2 345.5 246.5 344.9 247.5 347.4 247.8 349.5 247.5 353.1 246.5 356.0 245.5 354.8 244.8 350.5 245.5 346.4ZM233.3 347.5 233.5 347.2 234.5 349.8 235.2 357.5 234.8 361.5 234.5 362.3 233.5 362.9 232.5 361.4 231.5 356.5 232.5 349.1ZM351.1 348.5 353.5 348.4 356.5 349.4 357.5 350.4 357.8 351.5 356.8 354.5 354.5 357.5 352.5 359.3 350.5 360.0 349.5 359.6 348.9 358.5 348.4 355.5 349.5 350.7 350.5 348.9ZM371.9 363.5 373.5 363.5 374.5 364.3 379.5 370.5 380.6 376.5 380.7 377.5 379.7 379.5 379.1 382.5 378.0 384.5 377.7 386.5 374.5 391.6 371.5 391.7 368.5 393.9 367.2 395.5 363.5 396.4 362.5 395.8 361.3 396.5 359.8 398.5 357.6 399.5 356.5 400.5 354.5 400.3 352.5 401.9 350.5 402.4 349.5 401.8 345.5 402.9 342.6 402.5 335.5 398.3 334.5 396.5 334.6 394.5 335.5 392.6 336.5 391.8 337.5 391.9 340.5 396.1 341.5 396.5 343.5 396.3 345.5 395.2 348.5 390.4 351.9 386.5 354.1 381.5 356.5 377.3 358.2 372.5 359.5 370.6 361.5 369.3 366.5 368.6 370.5 364.4ZM296.4 370.5 297.5 370.9 299.0 374.5 299.0 380.5 299.5 381.6 301.5 383.2 303.5 383.6 304.5 383.4 306.1 381.5 307.2 377.5 308.5 375.5 309.5 375.3 310.2 376.5 311.4 388.5 310.7 390.5 308.4 394.5 309.3 400.5 308.8 402.5 307.5 404.5 298.5 407.3 295.6 406.5 292.5 404.6 291.5 404.5 290.5 404.6 288.5 405.7 284.5 406.1 282.5 404.8 276.5 404.5 274.5 405.8 270.5 406.4 266.5 404.9 261.5 401.8 258.5 402.4 256.9 401.5 256.7 400.5 257.5 399.5 259.5 399.4 261.5 400.3 262.5 399.7 263.5 398.3 265.0 394.5 266.1 393.5 267.5 393.1 269.5 393.5 278.5 396.8 279.5 396.8 282.5 394.4 284.5 394.2 285.5 394.7 288.0 398.5 289.5 399.9 291.5 400.3 292.5 399.9 293.9 397.5 295.3 392.5 295.2 390.5 294.1 387.5 293.8 385.5 294.4 382.5 294.5 376.5 295.5 371.9ZM348.3 376.5 349.5 376.6 350.3 377.5 350.5 378.6 349.5 379.8 348.5 379.7 347.9 378.5 347.8 377.5ZM322.7 389.5 323.5 388.8 324.7 389.5 324.5 390.0 323.5 390.6ZM316.7 400.5 318.5 399.9 320.5 400.2 323.9 401.5 325.1 402.5 320.5 405.4 314.5 405.7 314.3 404.5 314.7 402.5ZM251.2 410.5 251.5 410.3 251.9 410.5 251.5 410.6ZM238.8 417.5 240.5 416.5 241.5 416.6 242.7 417.5 241.5 419.6 240.5 419.9 239.1 419.5 238.4 418.5Z"/>
<path fill="#ffa700" d="M258.3 344.5 258.5 344.1 259.5 345.1 260.1 348.5 259.5 352.8 258.5 353.4 257.5 351.7 257.2 349.5 257.5 346.1ZM245.9 348.5 246.5 347.9 247.0 349.5 246.5 353.0 245.4 351.5 245.4 349.5ZM233.4 350.5 234.5 353.0 234.8 356.5 234.5 360.2 233.5 361.2 232.5 359.6 232.0 356.5 232.5 352.0ZM351.1 350.5 352.5 349.9 353.5 350.1 354.4 350.5 355.2 351.5 355.2 352.5 353.5 356.5 351.5 358.3 350.5 358.3 349.5 357.1 349.3 355.5 349.6 353.5ZM371.0 365.5 372.5 364.9 373.5 365.3 377.7 370.5 378.5 372.5 378.6 382.5 377.8 384.5 377.6 386.5 374.5 391.4 370.5 392.0 368.5 393.1 366.5 395.2 364.5 395.6 362.1 395.5 359.4 398.5 357.5 399.3 356.5 400.1 354.5 400.1 352.5 401.6 350.5 401.8 349.5 400.7 347.5 402.1 345.5 402.3 341.6 400.5 341.1 399.5 341.6 398.5 345.5 396.5 348.7 391.5 352.7 387.5 357.0 379.5 359.5 372.5 361.5 371.0 366.5 370.6ZM296.2 373.5 296.5 372.8 297.5 373.2 298.3 375.5 297.5 379.2 296.5 380.1 295.5 378.6 295.4 377.5 295.5 375.5ZM296.0 383.5 296.5 382.7 297.5 382.5 303.5 385.6 305.5 385.4 307.5 384.1 308.5 383.9 309.4 387.5 309.1 389.5 306.9 393.5 306.9 395.5 307.9 399.5 307.2 402.5 305.1 404.5 302.7 405.5 298.5 406.5 296.5 405.5 295.0 403.5 294.3 401.5 296.7 391.5 295.2 386.5 295.5 384.5ZM266.2 395.5 267.5 394.7 268.5 394.7 273.5 396.5 274.7 397.5 275.9 399.5 276.2 401.5 275.9 402.5 273.5 404.3 271.5 404.7 269.5 404.3 266.2 402.5 265.2 401.5 264.9 400.5 265.3 397.5ZM317.5 401.5 319.5 401.0 321.5 401.5 322.9 402.5 322.6 403.5 320.5 404.6 317.7 404.5 316.4 403.5 316.5 402.5Z"/>
<path fill="#ff9100" d="M258.3 347.5 258.5 346.8 259.3 348.5 258.5 350.9 258.2 349.5ZM233.3 353.5 233.5 353.2 233.9 354.5 234.1 356.5 233.5 359.2 232.6 356.5ZM371.0 367.5 372.5 367.0 373.5 367.5 376.2 370.5 377.1 372.5 377.9 382.5 377.5 385.5 376.2 388.5 374.5 390.8 373.5 391.3 371.5 391.1 368.5 392.1 366.5 394.1 364.5 395.0 362.5 395.0 361.5 395.4 358.7 398.5 356.5 399.7 354.5 399.9 352.5 401.4 350.5 401.3 349.5 400.3 348.3 400.5 347.5 401.5 346.5 401.6 344.1 400.5 343.5 399.5 346.5 396.6 349.5 391.6 353.1 388.5 355.5 384.1 358.1 380.5 359.5 375.5 360.5 373.7 362.5 372.7 366.5 372.4ZM297.3 385.5 298.5 385.2 299.5 385.5 302.5 388.1 304.9 389.5 305.4 390.5 305.2 394.5 306.5 398.5 306.6 400.5 305.8 402.5 304.9 403.5 303.5 404.5 301.5 405.1 298.5 404.6 297.5 403.9 296.0 401.5 296.3 396.5 298.2 391.5 298.2 390.5 297.0 387.5 296.8 386.5ZM267.3 397.5 268.5 396.5 269.5 396.5 271.8 397.5 273.6 399.5 273.8 400.5 273.5 401.7 272.5 402.7 271.5 402.9 269.8 402.5 268.5 401.8 267.3 400.5 267.0 399.5Z"/>
<path fill="#ff7700" d="M370.9 369.5 372.5 369.0 373.5 369.4 375.5 371.5 376.1 373.5 377.1 382.5 377.0 385.5 375.7 388.5 374.5 390.1 373.5 390.7 370.5 390.5 368.5 390.9 364.5 394.1 361.5 394.9 360.6 395.5 357.8 398.5 356.2 399.5 353.5 400.1 352.5 401.1 351.5 401.2 349.5 399.9 348.5 399.9 347.2 400.5 346.4 399.5 346.6 398.5 348.7 393.5 350.5 391.5 353.5 389.3 356.5 384.2 360.0 380.5 361.5 375.4 362.5 374.7 366.5 374.1ZM300.5 392.5 301.5 392.3 302.5 392.9 304.9 397.5 305.5 399.5 305.1 401.5 304.4 402.5 302.5 403.9 301.5 404.0 298.5 403.0 297.2 400.5 297.5 396.4 298.5 394.5Z"/>
<path fill="#ff6000" d="M370.4 371.5 371.5 370.8 372.5 370.7 373.5 371.1 374.5 372.2 375.0 373.5 376.5 384.5 376.5 385.5 375.0 388.5 373.5 389.5 370.5 389.1 368.5 389.6 363.9 393.5 359.5 395.1 358.1 397.5 357.1 398.5 355.5 399.5 353.5 399.8 352.5 400.7 351.5 400.9 348.5 399.4 347.7 398.5 347.7 397.5 348.2 395.5 349.5 393.2 354.5 389.5 357.4 384.5 361.9 381.5 364.5 377.5 366.5 376.2ZM300.4 395.5 301.5 395.6 302.5 396.3 304.0 398.5 304.2 400.5 303.7 401.5 302.5 402.5 300.5 402.6 299.5 402.2 298.4 400.5 298.6 397.5 299.5 396.0Z"/>
<path fill="#ff4700" d="M370.2 373.5 371.5 372.6 372.5 372.5 373.5 373.3 374.0 374.5 375.7 384.5 375.5 386.1 374.5 387.9 373.5 388.2 370.5 387.7 368.5 387.8 363.5 392.6 358.5 394.1 357.3 397.5 356.4 398.5 353.5 399.5 352.5 400.3 351.5 400.5 348.6 398.5 348.5 396.5 349.8 393.5 351.5 392.0 355.0 390.5 356.9 386.5 358.5 384.8 363.5 382.7 365.1 381.5 366.5 379.8 368.1 376.5ZM300.1 398.5 300.5 398.1 301.5 398.0 302.1 398.5 302.7 399.5 302.5 400.6 301.5 401.2 300.5 400.9 299.8 399.5Z"/>
<path fill="#ff3000" d="M370.3 375.5 371.5 374.7 372.5 375.0 373.2 376.5 374.6 384.5 374.5 385.6 373.5 386.6 370.5 386.0 367.5 384.5 367.5 383.5 369.2 377.5ZM359.4 385.5 361.5 384.9 364.5 384.7 365.5 384.7 366.5 385.4 366.2 387.5 365.2 389.5 362.5 391.8 360.5 392.2 357.5 391.8 357.0 392.5 357.2 395.5 356.5 397.7 355.5 398.6 352.5 399.9 351.5 400.0 350.5 399.5 349.3 398.5 348.9 397.5 349.6 394.5 350.5 393.4 352.5 392.2 356.5 391.9 357.0 391.5 356.9 389.5 357.4 387.5Z"/>
<path fill="#ff1600" d="M371.4 380.5 372.5 382.3 372.5 383.6 371.5 383.5 371.1 382.5ZM360.2 386.5 362.5 386.4 364.0 387.5 363.6 389.5 362.5 390.5 360.5 390.9 359.3 390.5 358.5 389.6 358.4 388.5 358.8 387.5ZM351.0 393.5 353.5 392.5 355.5 393.1 356.4 394.5 356.5 395.5 356.1 397.5 355.0 398.5 352.5 399.4 351.5 399.5 350.5 399.0 349.5 397.6 349.4 396.5 350.1 394.5Z"/>
<path fill="#e40000" d="M351.8 393.5 353.5 393.1 354.5 393.3 355.5 394.2 356.0 395.5 355.5 397.5 354.1 398.5 352.5 399.0 350.6 398.5 350.0 397.5 350.1 395.5 350.6 394.5Z"/>
<path fill="#c80000" d="M351.2 394.5 352.5 393.7 354.5 394.1 355.4 395.5 354.9 397.5 353.5 398.4 351.5 398.5 350.5 397.5 350.3 396.5Z"/>
<path fill="#a80000" d="M352.1 394.5 353.5 394.3 354.8 395.5 354.5 397.1 353.5 397.9 352.5 398.1 351.2 397.5 350.9 396.5 351.1 395.5Z"/>
<path fill="#8d0000" d="M351.8 395.5 352.5 395.0 353.5 395.0 354.0 395.5 354.1 396.5 353.5 397.3 352.5 397.5 351.5 396.5Z"/>
<path fill="#66ff90" d="M402.1 160.5 403.5 160.2 404.0 161.5 403.5 162.6 402.5 163.2 401.7 161.5ZM399.4 167.5 400.5 167.2 401.5 167.4 402.5 167.0 403.5 167.8 404.5 169.5 404.8 172.5 406.0 175.5 406.0 181.5 408.1 185.5 408.9 190.5 409.9 193.5 409.5 197.5 407.5 202.5 408.9 207.5 408.3 211.5 409.7 216.5 409.5 218.4 408.9 219.5 409.0 224.5 406.8 226.5 406.5 227.5 407.3 231.5 406.4 236.5 407.1 238.5 408.5 239.8 409.1 241.5 409.0 243.5 408.0 245.5 408.0 250.5 408.3 252.5 409.8 257.5 408.5 260.1 408.2 261.5 408.1 266.5 409.1 273.5 408.3 279.5 409.9 285.5 407.3 292.5 409.5 296.5 409.9 299.5 409.5 300.9 407.5 300.7 406.8 301.5 407.1 310.5 407.7 314.5 407.5 315.2 405.5 315.9 405.2 316.5 405.1 318.5 406.1 322.5 405.9 327.5 405.5 328.6 404.3 329.5 404.1 330.5 404.9 332.5 404.9 334.5 403.5 336.6 402.5 336.8 401.5 335.5 401.4 334.5 402.6 329.5 400.8 324.5 400.6 322.5 401.5 319.5 401.5 318.5 400.3 316.5 399.4 311.5 397.8 307.5 398.9 301.5 397.5 297.5 399.7 291.5 400.0 288.5 399.8 286.5 398.4 283.5 397.6 279.5 398.5 278.4 398.7 275.5 398.5 274.7 397.5 274.9 397.2 273.5 398.6 266.5 398.9 262.5 396.7 258.5 396.1 255.5 396.2 253.5 397.4 249.5 396.8 245.5 397.5 243.9 398.5 243.9 398.9 242.5 397.5 238.2 396.2 236.5 396.1 235.5 396.5 234.2 398.5 231.9 398.7 230.5 398.3 226.5 399.0 220.5 398.1 214.5 398.1 211.5 396.8 208.5 396.5 206.5 397.0 199.5 398.3 191.5 398.2 190.5 397.2 188.5 397.4 182.5 399.2 174.5 399.2 172.5 398.5 169.5 398.6 168.5ZM164.4 231.5 165.9 232.5 165.9 235.5 157.5 248.0 155.5 249.6 154.5 249.1 153.4 247.5 153.9 246.5 163.1 232.5ZM194.4 263.5 194.8 264.5 194.5 273.0 193.1 280.5 190.5 281.5 187.5 281.4 185.0 280.5 183.5 277.4 182.5 277.8 181.4 280.5 179.5 281.1 178.6 280.5 178.6 268.5 178.7 267.5 179.5 266.5 181.5 265.9 184.5 265.7 186.5 264.8 190.5 263.8 193.5 263.9ZM218.0 269.5 219.5 269.3 221.5 270.5 223.5 270.1 224.4 270.5 224.2 272.5 224.5 273.7 226.5 274.0 228.5 275.6 231.0 276.5 234.5 282.5 235.5 283.0 236.7 284.5 237.5 287.2 240.5 288.7 241.3 289.5 241.5 290.9 242.2 291.5 243.5 291.8 247.5 293.9 248.5 293.2 253.5 294.3 254.5 295.0 256.5 294.7 258.3 296.5 261.5 296.8 262.5 297.5 263.7 297.5 263.8 296.5 264.5 295.9 265.5 296.0 266.8 297.5 269.5 298.0 272.5 297.0 273.5 297.5 274.5 299.6 275.5 299.3 276.5 298.2 277.5 297.9 279.5 298.7 282.5 299.0 284.5 299.7 285.5 299.0 287.5 298.2 288.5 298.5 290.5 298.2 293.5 300.2 295.5 299.5 298.5 300.0 299.5 301.2 300.5 301.1 302.5 298.9 303.5 299.2 306.7 301.5 309.5 301.6 314.5 300.7 317.5 300.6 321.4 302.5 324.5 302.7 326.9 302.5 326.8 300.5 328.5 299.9 330.5 300.0 333.0 301.5 334.5 301.7 335.5 301.6 337.5 300.5 340.5 300.5 341.5 300.9 342.5 302.1 343.5 302.1 345.5 303.2 348.5 302.0 350.5 302.5 352.5 302.2 354.5 303.5 357.2 306.5 358.5 306.7 365.5 310.0 366.5 310.0 368.1 311.5 368.4 313.5 370.2 315.5 369.9 317.5 371.3 319.5 371.5 320.9 372.5 322.5 374.5 323.6 375.4 324.5 375.4 326.5 376.8 327.5 378.5 332.6 379.3 333.5 379.5 336.6 380.3 337.5 380.5 339.1 382.3 343.5 382.7 348.5 383.5 350.5 384.4 351.5 384.5 357.2 385.2 358.5 384.9 365.5 384.5 366.1 384.0 364.5 380.5 359.6 376.5 357.1 373.5 351.7 371.5 349.4 370.5 349.1 369.8 349.5 367.5 351.9 366.5 352.0 365.5 350.7 364.6 347.5 364.0 340.5 363.5 338.3 362.5 336.3 361.5 335.6 360.5 336.0 356.5 339.1 354.5 339.6 353.5 339.4 350.6 337.5 347.8 333.5 346.5 332.8 344.5 333.9 342.5 337.2 339.0 331.5 337.5 330.0 335.5 329.1 334.5 329.5 333.1 331.5 331.8 337.5 331.4 353.5 332.9 359.5 332.9 362.5 330.7 369.5 329.5 370.7 328.5 370.7 327.5 370.0 326.6 368.5 326.0 366.5 326.2 361.5 324.7 354.5 325.3 349.5 326.8 343.5 326.8 340.5 324.9 327.5 324.5 326.3 323.5 325.2 322.5 325.6 322.1 326.5 321.7 332.5 319.8 340.5 319.2 348.5 320.9 354.5 319.4 360.5 319.7 365.5 318.5 368.2 317.5 368.8 316.5 368.8 315.1 367.5 314.1 364.5 314.5 352.5 313.4 342.5 314.1 334.5 312.0 321.5 311.5 320.0 310.5 319.7 308.5 324.9 307.8 328.5 307.9 339.5 307.3 344.5 307.4 352.5 306.8 360.5 307.1 367.5 306.5 369.5 305.7 370.5 304.5 371.3 303.5 371.1 302.5 370.2 301.5 368.2 300.8 365.5 300.3 357.5 300.2 343.5 300.8 329.5 300.1 325.5 299.5 324.5 298.5 324.0 297.5 324.3 296.5 325.4 294.4 329.5 294.2 331.5 294.9 337.5 294.1 347.5 294.2 353.5 293.1 361.5 292.5 363.4 291.5 364.9 290.5 365.2 289.5 364.3 288.0 361.5 287.5 359.5 287.5 352.5 286.7 345.5 286.6 340.5 285.9 336.5 286.0 331.5 285.5 329.6 284.5 329.3 283.5 330.9 282.7 335.5 282.7 342.5 281.7 350.5 282.6 359.5 281.6 366.5 280.5 369.5 278.5 371.7 277.5 371.7 276.5 371.2 275.1 369.5 274.1 367.5 273.7 365.5 274.9 349.5 274.8 338.5 273.5 334.3 271.5 332.3 270.5 332.5 269.5 334.1 267.9 339.5 266.7 346.5 267.8 353.5 267.3 360.5 268.0 366.5 264.5 374.6 263.5 375.8 262.5 376.3 261.5 376.1 260.9 375.5 261.1 374.5 263.0 370.5 264.7 360.5 263.8 353.5 264.5 346.5 262.1 334.5 261.3 332.5 259.5 330.2 258.5 329.6 257.5 329.7 256.5 330.6 255.3 332.5 254.2 335.5 253.3 343.5 252.5 346.3 251.5 345.2 249.4 335.5 247.5 324.4 246.5 322.5 245.5 322.2 243.8 323.5 242.8 326.5 242.6 329.5 242.8 335.5 242.0 342.5 241.8 350.5 242.6 360.5 242.1 366.5 243.1 374.5 240.5 385.0 239.5 386.0 238.5 386.0 237.5 385.2 237.0 383.5 236.9 376.5 238.3 365.5 237.7 349.5 238.2 341.5 237.9 327.5 238.3 321.5 235.7 313.5 234.5 306.5 233.6 303.5 232.5 301.6 231.5 301.1 229.6 302.5 228.4 305.5 229.3 311.5 228.6 318.5 228.3 327.5 229.4 334.5 228.0 344.5 228.9 350.5 228.4 356.5 228.9 363.5 228.5 369.5 228.9 375.5 228.5 378.6 227.5 380.3 226.5 380.5 225.5 378.5 225.6 374.5 224.5 369.5 224.9 362.5 223.5 350.5 224.5 342.5 224.6 333.5 225.2 327.5 225.0 323.5 225.7 317.5 223.9 310.5 225.4 305.5 224.3 299.5 224.7 293.5 219.5 284.7 216.5 282.5 215.8 279.5 213.1 273.5 213.0 272.5 213.5 271.3 214.5 271.0 216.5 271.2ZM248.5 294.1 248.4 294.5 248.5 294.5 248.7 294.5ZM213.1 302.5 213.5 301.6 214.5 302.0 215.5 305.1 216.8 316.5 216.5 324.5 217.0 335.5 218.0 347.5 217.7 361.5 218.0 366.5 217.2 372.5 217.5 378.5 216.5 383.5 216.4 386.5 216.7 390.5 218.1 395.5 217.0 400.5 216.7 407.5 212.5 417.5 211.5 417.0 211.1 414.5 210.6 404.5 211.1 389.5 211.1 364.5 212.8 310.5 212.7 304.5ZM176.2 308.5 176.5 307.8 177.5 309.8 178.1 316.5 180.4 370.5 178.9 419.5 178.1 424.5 177.5 425.8 176.5 425.9 175.5 424.5 174.1 419.5 173.5 413.5 173.3 406.5 174.5 370.5 174.2 326.5 175.0 314.5 175.5 310.5ZM189.2 308.5 189.5 307.7 190.2 310.5 190.8 316.5 192.2 371.5 191.0 420.5 190.5 427.7 189.5 432.5 189.9 433.5 193.5 437.5 198.5 440.7 199.4 440.5 199.3 439.5 197.1 433.5 196.8 431.5 197.4 426.5 199.1 328.5 200.3 312.5 200.5 310.5 201.5 307.6 202.5 309.7 203.5 317.9 204.3 340.5 204.1 392.5 203.3 425.5 203.7 426.5 205.5 427.6 207.5 427.9 210.7 427.5 211.4 428.5 210.9 432.5 211.3 434.5 214.5 435.5 215.1 436.5 214.2 439.5 212.5 442.3 211.3 446.5 212.2 453.5 212.2 458.5 212.9 460.5 212.7 464.5 210.9 468.5 208.5 471.1 208.2 472.5 208.5 475.7 209.5 475.3 210.5 473.7 211.1 474.5 210.4 481.5 210.7 482.5 211.6 483.5 211.8 484.5 211.5 485.6 209.5 484.6 208.7 487.5 208.4 489.5 209.0 493.5 208.4 495.5 208.4 497.5 210.5 494.5 211.5 495.5 212.0 499.5 211.5 501.3 210.1 503.5 209.4 510.5 210.0 514.5 208.4 519.5 207.9 525.5 207.5 526.0 206.5 526.1 205.5 526.1 204.5 525.5 203.5 516.5 200.9 514.5 200.2 512.5 200.3 510.5 201.4 508.5 201.8 506.5 201.7 504.5 201.0 502.5 200.9 500.5 202.2 496.5 203.0 490.5 202.7 489.5 201.4 488.5 201.0 487.5 201.0 481.5 199.9 478.5 200.5 476.9 201.5 476.7 201.6 475.5 200.9 471.5 200.2 469.5 200.0 464.5 200.0 462.5 201.2 458.5 200.6 454.5 201.5 452.5 195.5 447.5 185.5 440.5 182.5 437.5 180.5 436.4 179.0 434.5 179.5 433.5 180.5 432.8 183.4 432.5 186.7 430.5 185.8 423.5 185.6 413.5 186.7 371.5 186.5 336.5 187.5 318.3 188.5 310.1ZM163.3 309.5 163.5 309.0 164.5 310.3 165.5 317.8 166.8 340.5 167.5 364.5 167.1 380.5 165.5 402.7 164.5 409.5 163.5 411.2 162.2 410.5 161.5 409.5 160.5 406.4 159.7 401.5 159.4 394.5 161.2 356.5 161.8 321.5 162.5 312.4ZM398.3 320.5 398.7 320.5 399.2 321.5 398.5 322.7 397.5 321.5ZM150.5 322.5 150.5 321.7 151.5 324.3 152.5 332.1 153.4 350.5 152.5 371.4 151.5 380.5 150.5 384.5ZM342.5 339.5 343.5 340.9 344.5 345.5 344.5 349.5 343.9 355.5 344.2 362.5 343.5 366.9 342.5 367.9 341.5 368.0 340.5 367.1 338.7 363.5 338.2 360.5 339.7 354.5 339.2 349.5 339.5 346.0 340.5 342.6ZM252.4 354.5 253.5 355.8 254.5 358.0 255.1 361.5 254.5 367.5 253.5 370.2 252.5 370.8 251.5 368.9 250.5 362.5 251.4 355.5ZM252.0 374.5 252.5 373.9 253.5 374.4 255.0 376.5 254.8 377.5 252.5 379.2 251.5 378.6 251.2 377.5 251.4 375.5ZM224.5 402.5 225.5 402.1 226.5 402.4 227.0 403.5 226.9 404.5 225.5 406.8 224.5 407.5 223.5 407.6 222.9 406.5 223.0 405.5ZM337.0 579.5 338.5 579.0 345.5 578.9 383.5 578.9 385.5 579.0 386.4 579.5 385.5 580.8 378.5 584.9 366.5 588.9 364.5 589.1 361.5 588.9 359.5 588.1 355.5 588.1 352.5 587.1 349.5 586.9 343.5 583.9 341.5 582.3 337.9 580.5Z"/>
<path fill="#50ffa7" d="M217.9 270.5 218.5 270.0 219.5 269.8 221.5 271.1 223.5 271.3 223.4 272.5 224.5 274.6 226.5 274.8 228.4 276.5 229.5 276.5 230.5 277.0 231.2 278.5 233.0 280.5 233.8 282.5 236.0 284.5 236.5 286.7 237.5 288.0 240.5 289.5 241.1 291.5 244.5 293.0 247.5 294.9 249.5 295.4 250.5 295.1 251.5 295.4 251.5 296.5 253.5 297.0 254.5 296.8 255.5 296.0 258.5 297.5 260.5 297.2 263.5 298.3 265.5 297.8 269.5 298.9 270.5 298.7 271.5 297.8 272.5 297.9 273.5 299.7 274.5 300.5 276.5 300.3 277.5 299.6 278.5 299.5 281.5 299.7 284.5 300.6 286.5 299.0 287.5 298.9 288.5 299.3 290.5 299.3 293.5 301.5 295.5 300.3 296.5 300.9 297.5 300.8 298.5 301.2 299.5 302.4 302.5 301.1 304.5 301.3 306.1 302.5 307.5 302.7 316.5 301.1 318.5 302.3 325.5 303.6 327.5 303.5 329.5 301.6 330.5 301.4 334.5 302.3 335.5 302.2 337.5 301.0 339.5 301.0 340.5 301.2 342.5 303.1 345.5 304.1 346.5 304.2 348.5 302.8 352.6 303.5 356.5 306.9 358.5 307.4 359.5 308.1 360.5 309.4 361.5 309.9 362.5 311.5 363.5 311.1 366.5 311.5 367.5 313.9 369.3 315.5 369.0 317.5 369.5 318.5 370.7 319.5 371.3 321.5 372.5 322.9 374.7 324.5 375.0 326.5 377.2 329.5 377.5 331.6 378.6 333.5 379.5 337.3 380.3 338.5 380.5 340.5 381.3 341.5 382.1 344.5 382.5 349.6 384.1 351.5 384.9 361.5 384.5 364.2 380.5 358.9 376.9 356.5 373.5 350.3 371.5 347.9 370.5 347.4 369.5 347.4 367.5 348.8 366.5 348.8 365.6 346.5 364.1 337.5 362.5 333.2 361.5 332.0 360.5 332.5 359.9 334.5 358.6 336.5 356.5 338.2 354.5 338.8 353.2 338.5 351.5 337.4 348.5 332.7 347.5 331.8 346.5 331.5 342.5 333.0 341.5 332.8 337.5 329.0 335.5 327.9 334.5 328.1 333.2 329.5 331.7 334.5 331.1 338.5 330.9 353.5 332.2 359.5 332.3 361.5 330.5 367.8 329.5 368.9 328.5 368.9 327.5 367.9 327.0 366.5 327.0 361.5 325.7 354.5 326.0 349.5 327.4 343.5 327.2 337.5 325.6 326.5 324.5 324.1 323.5 323.6 322.5 323.8 321.9 324.5 321.1 326.5 321.1 332.5 319.4 339.5 318.5 348.5 319.8 355.5 318.7 359.5 318.7 365.5 317.5 367.2 316.5 367.3 315.1 365.5 314.5 362.9 315.2 351.5 314.3 346.5 314.1 342.5 314.7 335.5 313.8 329.5 313.3 321.5 312.5 319.0 311.5 317.7 310.5 317.3 309.5 318.1 309.0 319.5 307.2 327.5 307.5 339.5 306.9 345.5 307.1 352.5 306.4 360.5 306.6 366.5 305.7 369.5 304.5 370.3 303.5 370.1 302.3 368.5 301.4 365.5 300.9 357.5 300.8 343.5 301.4 327.5 300.5 323.9 299.5 322.7 298.5 322.4 297.5 322.6 296.5 323.5 293.6 329.5 294.3 336.5 294.2 342.5 293.5 347.5 293.7 352.5 292.7 359.5 291.5 362.6 290.5 362.9 289.5 362.0 288.3 358.5 287.3 341.5 286.6 336.5 287.0 329.5 286.5 328.2 285.5 327.1 284.5 326.8 283.5 327.6 282.2 333.5 282.2 342.5 281.3 349.5 282.0 358.5 281.8 361.5 281.0 366.5 280.4 368.5 278.6 370.5 277.5 370.7 276.5 370.1 275.3 368.5 274.4 365.5 275.3 349.5 275.2 339.5 274.6 335.5 273.5 332.9 271.5 330.8 270.5 330.9 269.5 331.7 268.7 333.5 266.5 342.2 265.5 344.4 264.5 342.5 262.8 334.5 262.0 332.5 259.5 329.0 258.5 328.3 257.5 328.5 255.5 330.8 254.1 333.5 252.5 340.8 251.5 340.4 249.5 332.9 247.7 322.5 246.5 320.7 245.5 320.7 243.1 322.5 242.2 324.5 241.9 326.5 241.7 330.5 242.1 336.5 241.3 342.5 241.4 350.5 242.1 360.5 241.2 366.5 242.3 373.5 241.5 377.3 240.5 379.3 239.5 380.2 238.5 379.2 237.8 375.5 239.1 366.5 238.1 353.5 238.2 347.5 239.0 341.5 238.6 335.5 239.2 321.5 236.2 312.5 234.7 304.5 233.5 301.1 231.5 299.5 230.5 299.6 227.5 301.5 226.5 301.2 226.1 300.5 225.6 298.5 226.3 294.5 225.9 292.5 221.8 286.5 219.7 279.5 216.5 276.4 215.0 273.5 215.5 272.5 217.5 271.6ZM214.4 317.5 214.6 323.5 216.0 329.5 216.2 335.5 217.4 346.5 217.3 366.5 216.5 372.5 216.8 378.5 215.4 385.5 215.4 389.5 216.3 395.5 215.2 399.5 215.3 404.5 214.5 406.6 213.5 407.1 212.5 405.5 212.3 403.5 212.4 389.5 211.7 365.5 213.2 329.5 213.5 326.4 214.3 323.5ZM176.3 326.5 177.5 331.3 178.5 343.4 179.5 358.8 179.7 369.5 179.5 380.6 178.5 395.6 177.5 404.1 176.5 406.9 175.5 404.5 174.9 393.5 175.2 369.5 175.0 338.5 175.5 328.8ZM201.3 326.5 201.5 325.8 202.5 328.7 203.2 336.5 203.6 361.5 202.7 396.5 201.5 407.1 200.5 409.5 199.5 404.9 199.3 400.5 199.0 369.5 199.7 340.5 200.5 329.7ZM188.4 327.5 188.5 326.9 189.5 327.0 190.2 334.5 191.5 369.5 190.5 397.1 189.5 406.2 188.5 409.1 187.5 405.0 187.1 392.5 187.2 342.5 187.5 335.3ZM163.4 328.5 163.5 327.8 164.5 328.0 165.5 334.8 166.5 350.7 166.7 366.5 166.5 374.5 165.5 386.6 164.5 393.1 163.5 396.3 162.5 396.5 161.5 392.5 161.1 382.5 162.6 339.5ZM226.2 330.5 226.5 329.9 227.5 330.3 228.4 332.5 228.6 334.5 227.5 340.5 226.5 342.3 225.4 334.5 225.5 332.4ZM341.2 343.5 341.5 343.0 342.5 342.7 343.2 343.5 343.9 347.5 343.0 354.5 343.4 362.5 342.5 365.0 341.5 365.3 340.5 364.4 339.5 362.8 339.1 360.5 340.5 354.5 339.9 347.5 340.5 344.6ZM225.6 345.5 226.5 344.9 227.5 346.8 228.4 350.5 227.7 357.5 228.0 363.5 227.5 366.1 226.8 367.5 226.5 370.6 226.2 365.5 224.2 351.5 224.5 348.1ZM151.0 347.5 151.5 346.8 151.7 356.5 151.5 360.0 150.5 363.0 150.5 348.2ZM265.4 349.5 266.5 350.4 267.1 353.5 266.5 357.6 265.5 357.9 264.5 355.3 264.3 353.5 264.5 351.5ZM252.1 357.5 252.5 357.0 253.5 357.9 254.4 361.5 253.5 365.8 252.5 366.4 251.5 364.5 251.3 362.5 251.5 359.0ZM265.1 364.5 265.5 363.7 266.5 364.3 266.7 365.5 266.5 367.3 265.5 368.4 264.8 367.5 264.7 366.5ZM202.4 429.5 203.1 430.5 203.1 434.5 202.5 437.3 201.5 437.5 201.0 435.5 202.0 432.5Z"/>
<path fill="#3cffba" d="M218.6 270.5 219.5 270.3 221.5 271.7 222.5 271.8 224.5 275.1 226.5 275.2 227.5 276.9 228.5 277.2 229.5 276.9 230.3 277.5 230.6 278.5 232.5 280.5 233.3 282.5 234.5 283.9 235.5 284.5 236.5 287.4 237.5 288.6 240.0 289.5 240.5 291.5 241.5 292.3 243.5 292.9 246.5 294.9 249.5 296.0 250.5 297.2 252.5 297.2 253.5 297.6 254.5 297.5 255.5 296.8 256.5 297.0 258.5 298.5 260.5 297.7 263.5 298.7 268.5 298.8 269.5 299.5 270.5 299.7 271.5 298.3 272.5 298.6 273.5 300.5 274.5 300.8 276.5 300.9 278.5 299.9 280.5 300.0 282.5 300.9 284.5 301.1 286.5 299.4 287.5 299.3 288.5 300.0 290.5 299.8 293.5 302.0 294.5 301.9 296.5 302.9 297.5 301.8 299.5 303.2 301.5 302.2 304.5 302.1 306.5 303.0 308.5 303.1 315.5 301.6 316.5 301.7 317.5 302.6 320.5 302.9 324.5 304.1 325.5 304.1 328.5 303.6 330.5 302.1 334.5 302.9 335.5 302.7 337.5 301.5 339.5 301.4 340.5 301.7 342.2 303.5 345.5 304.6 347.5 304.7 348.1 303.5 349.5 303.1 351.5 303.9 353.5 305.0 355.5 306.8 359.1 308.5 361.3 311.5 362.5 311.8 365.5 311.7 366.5 312.3 367.4 314.5 368.4 315.5 368.5 317.5 370.0 319.5 370.3 320.5 372.5 323.4 374.3 324.5 374.5 326.5 377.0 329.5 377.5 332.0 378.4 333.5 378.7 335.5 380.0 338.5 380.3 340.5 381.1 341.5 382.1 345.5 382.4 349.5 383.9 351.5 384.2 352.5 384.4 361.5 383.5 362.0 380.5 358.3 377.5 356.2 373.5 349.1 371.5 346.8 369.5 345.6 367.5 345.1 367.0 344.5 363.5 332.3 362.5 330.5 361.5 329.7 360.5 329.7 359.8 330.5 358.7 334.5 357.5 336.5 356.3 337.5 354.5 338.0 352.7 337.5 351.5 336.5 349.3 332.5 347.5 330.8 346.5 330.5 342.5 331.6 341.5 331.4 339.5 330.0 336.5 327.0 335.5 326.5 334.5 326.5 333.5 327.3 332.1 329.5 330.7 335.5 330.3 339.5 330.6 348.5 330.2 353.5 331.5 360.5 330.5 364.7 329.5 366.6 328.5 366.6 326.8 356.5 326.6 352.5 326.7 349.5 328.3 343.5 328.1 337.5 326.2 325.5 325.4 323.5 324.5 322.5 323.5 322.2 322.5 322.4 321.5 323.3 320.5 325.5 320.5 332.5 319.0 338.5 318.5 343.5 317.2 349.5 318.5 353.5 318.7 355.5 317.6 359.5 317.6 364.5 316.5 365.4 315.5 363.8 315.3 362.5 316.3 350.5 314.9 344.5 315.3 335.5 314.4 329.5 314.2 321.5 312.5 317.2 311.5 316.0 310.5 315.5 309.5 315.9 308.5 317.7 306.7 326.5 307.1 339.5 306.6 344.5 306.8 352.5 306.0 360.5 306.0 366.5 305.5 368.4 304.5 369.2 303.5 369.0 302.5 367.5 301.8 364.5 301.4 356.5 301.3 343.5 302.1 326.5 301.7 324.5 300.5 322.0 299.5 321.1 298.5 321.0 296.5 321.8 295.5 323.0 292.9 329.5 293.9 336.5 293.6 342.5 292.9 347.5 293.0 352.5 291.9 358.5 291.5 359.7 290.5 360.3 289.5 358.9 289.2 357.5 288.0 341.5 287.2 336.5 288.0 329.5 287.3 327.5 285.5 325.5 284.5 325.2 283.5 325.4 282.8 326.5 281.5 334.5 281.7 342.5 280.9 349.5 281.5 357.5 281.3 361.5 280.1 367.5 278.7 369.5 277.5 369.7 276.1 368.5 275.0 365.5 275.1 355.5 275.6 349.5 275.5 338.5 274.8 334.5 273.5 331.5 272.5 330.0 271.5 329.3 270.5 329.4 269.5 330.1 268.0 332.5 266.9 337.5 265.5 340.1 264.5 338.6 262.7 332.5 259.5 327.4 258.5 326.6 257.5 326.9 256.5 328.0 254.3 331.5 252.5 335.5 251.5 336.3 249.6 330.5 248.5 321.9 247.7 319.5 246.5 319.0 241.5 322.3 240.5 321.7 237.1 313.5 235.0 302.5 234.3 300.5 233.5 299.3 231.5 297.9 228.3 297.5 228.0 293.5 223.9 288.5 222.4 285.5 221.5 279.1 220.4 277.5 217.2 274.5 216.8 273.5 217.5 272.8ZM240.1 334.5 240.5 333.8 240.9 335.5 240.5 339.5 239.6 336.5ZM214.5 335.5 215.5 337.6 216.6 345.5 216.8 356.5 216.7 366.5 215.7 372.5 215.9 377.5 215.5 379.7 214.5 381.5 213.5 381.0 212.9 377.5 212.4 365.5 213.0 345.5 213.5 339.6ZM176.5 342.5 177.5 345.6 178.5 355.9 178.8 364.5 178.5 379.5 177.5 388.0 176.5 387.8 176.3 382.5 176.0 352.5ZM201.4 342.5 201.5 341.8 202.5 347.5 202.7 358.5 202.5 375.5 201.5 388.8 200.5 388.5 199.8 371.5 200.5 348.5ZM188.5 343.5 189.5 344.0 190.6 361.5 190.5 378.7 189.5 388.8 188.5 387.6 188.3 382.5 188.1 355.5ZM164.3 344.5 164.5 343.6 165.5 351.5 165.7 366.5 165.5 372.2 164.5 380.7 163.5 383.1 162.8 378.5 162.7 370.5 163.5 348.5ZM239.5 344.5 240.5 344.5 241.6 356.5 241.5 361.5 240.5 364.0 239.5 362.9 238.5 356.5 238.7 349.5ZM341.3 345.5 341.5 345.1 342.5 345.2 343.0 347.5 342.5 351.2 341.5 351.8 340.5 348.5ZM225.6 348.5 226.5 348.0 227.5 349.4 227.7 350.5 227.5 353.5 226.5 356.3 225.5 354.8 225.1 352.5 225.1 350.5ZM265.5 353.5 265.5 353.2 265.5 353.5 265.5 353.7ZM341.1 357.5 341.5 356.8 342.5 359.5 342.3 361.5 341.5 362.6 340.5 361.8 340.2 360.5 340.4 358.5ZM239.8 370.5 240.5 369.9 241.2 373.5 240.5 376.1 239.5 376.5 239.0 373.5Z"/>
<path fill="#26ffd1" d="M219.3 271.5 219.5 271.2 220.5 271.4 221.5 272.2 222.5 272.4 224.2 275.5 226.5 275.8 226.9 277.5 227.5 277.8 229.7 277.5 230.3 279.5 231.9 280.5 233.0 282.5 235.5 285.5 236.2 287.5 237.5 288.9 239.5 289.5 240.5 292.0 241.5 292.8 243.5 293.2 246.5 295.4 249.5 296.5 250.5 297.8 254.5 298.0 255.5 297.4 256.5 297.7 258.5 299.3 259.5 299.2 260.5 298.2 261.5 298.2 265.5 299.3 268.5 299.1 269.5 300.1 270.5 300.3 271.5 299.2 272.5 299.7 273.5 300.9 275.5 301.3 276.5 301.3 278.5 300.3 280.5 300.3 282.5 301.7 285.5 301.6 285.8 300.5 286.5 299.9 287.5 299.8 288.5 300.6 290.5 300.3 292.5 301.9 293.8 302.5 295.5 304.2 297.5 303.3 299.5 304.2 301.5 303.3 302.5 303.9 304.5 302.9 308.5 303.6 311.5 302.7 313.5 302.7 315.5 301.9 316.5 302.2 317.5 303.6 318.5 303.1 320.5 303.1 322.0 303.5 324.5 305.0 325.5 305.0 326.0 304.5 328.5 304.2 329.5 303.3 331.5 302.6 334.5 303.4 335.5 303.3 337.5 301.8 339.5 301.7 340.5 302.0 341.5 303.5 344.5 304.7 347.5 305.3 348.5 304.0 349.5 303.4 352.5 304.8 355.4 307.5 355.5 308.7 357.5 308.4 358.5 308.7 359.4 309.5 360.0 311.5 362.5 312.2 365.5 312.0 366.2 312.5 367.9 315.5 368.3 317.5 369.9 320.5 372.3 323.5 374.0 324.5 374.3 326.5 376.8 329.5 377.5 332.3 378.3 333.5 378.5 335.5 381.2 342.5 382.0 345.5 382.2 349.5 384.1 352.5 384.1 359.5 383.5 361.2 382.5 360.4 380.5 357.7 377.5 355.3 374.5 349.7 372.5 346.8 367.5 342.5 366.5 340.5 364.3 332.5 362.5 329.0 361.5 328.2 360.5 328.2 359.5 329.0 358.7 330.5 357.3 335.5 355.5 337.0 353.5 337.1 351.7 335.5 349.5 331.6 347.5 329.8 345.5 329.6 342.5 330.5 340.5 329.9 339.5 329.1 336.7 325.5 335.9 320.5 335.5 319.9 334.5 319.6 333.5 321.5 333.4 324.5 330.8 329.5 329.5 334.6 328.6 332.5 328.0 328.5 326.2 322.5 325.4 321.5 323.5 320.8 322.5 321.1 321.0 322.5 319.7 325.5 319.7 333.5 318.0 339.5 317.5 343.6 316.5 345.3 315.9 342.5 316.0 336.5 315.2 330.5 315.1 321.5 312.5 315.6 311.5 314.2 310.5 313.5 309.5 313.8 307.9 316.5 305.9 326.5 306.8 339.5 306.2 345.5 306.4 353.5 305.6 359.5 305.4 365.5 304.8 367.5 304.5 367.8 303.5 367.5 302.7 365.5 301.9 356.5 302.0 336.5 303.0 326.5 301.8 322.5 300.5 320.1 299.5 319.3 297.5 319.8 295.3 321.5 292.1 328.5 291.9 330.5 293.1 334.5 293.3 337.5 292.9 343.5 292.1 347.5 292.1 353.5 291.5 355.7 290.5 356.2 289.5 352.5 288.6 341.5 287.7 336.5 287.9 334.5 289.1 330.5 289.0 328.5 287.0 325.5 284.5 323.8 283.5 323.8 282.1 325.5 281.1 334.5 281.3 342.5 280.5 349.5 280.9 360.5 279.5 367.5 278.5 368.6 277.5 368.7 276.3 367.5 275.6 364.5 275.5 355.5 276.0 349.5 275.9 337.5 275.3 334.5 273.5 329.8 272.5 328.2 271.5 327.6 270.5 327.8 269.5 328.7 267.4 331.5 265.5 336.4 264.2 333.5 261.1 328.5 259.5 323.7 258.5 323.7 253.5 331.5 252.5 332.8 251.5 333.0 250.5 331.3 250.1 329.5 249.0 319.5 248.5 317.3 247.5 316.6 242.5 320.2 241.5 320.5 240.5 319.8 237.4 312.5 235.7 301.5 235.0 299.5 231.4 295.5 229.8 292.5 226.5 290.0 224.3 287.5 223.2 284.5 223.6 279.5 222.5 277.5 220.0 274.5ZM286.5 302.1 286.3 302.5 286.5 302.6 286.7 302.5ZM214.3 344.5 214.5 343.7 215.5 345.0 215.7 346.5 215.9 356.5 215.7 366.5 215.5 367.9 214.5 369.7 213.5 367.9 213.2 364.5 213.9 347.5ZM328.4 347.5 328.5 347.2 329.5 347.5 329.6 348.5 329.1 353.5 330.4 359.5 329.5 361.5 328.5 359.7 327.9 356.5 327.6 350.5ZM239.5 351.5 240.5 353.1 240.8 355.5 240.9 358.5 240.5 360.9 239.5 359.7 239.3 358.5Z"/>
<path fill="#13fce4" d="M225.2 276.5 225.5 276.4 225.9 276.5 225.5 277.5ZM225.7 278.5 226.5 278.2 228.7 278.5 229.5 279.9 231.5 280.9 234.9 285.5 235.8 287.5 237.5 289.3 239.5 290.1 240.5 292.5 241.5 293.2 243.2 293.5 246.5 296.2 248.5 296.5 250.5 298.2 254.5 298.4 255.5 298.1 256.5 298.3 258.5 300.1 259.5 300.1 261.5 298.7 265.5 299.8 267.5 299.2 268.5 299.5 269.5 300.6 272.5 300.7 275.5 301.8 276.5 301.7 278.5 300.6 279.5 300.6 280.5 300.8 282.5 302.2 284.5 302.1 286.5 302.9 287.5 302.5 288.2 301.5 290.5 300.8 293.8 303.5 294.5 305.0 295.7 305.5 297.0 309.5 298.3 316.5 297.8 317.5 294.1 321.5 291.5 327.0 290.5 327.6 289.5 327.0 286.5 323.7 284.5 322.2 283.5 322.2 282.5 323.0 281.3 325.5 280.6 334.5 280.9 342.5 280.1 349.5 280.6 358.5 279.5 365.5 278.5 367.4 277.5 367.5 276.7 366.5 276.2 364.5 275.9 355.5 276.3 349.5 276.2 337.5 275.8 334.5 273.5 327.5 272.5 326.2 271.5 325.7 270.5 326.0 266.5 331.2 265.5 332.1 264.5 331.8 262.5 329.6 261.5 327.5 261.2 325.5 261.4 321.5 261.1 320.5 260.5 319.8 259.5 319.8 257.5 322.2 253.5 329.9 252.5 330.9 251.5 330.8 250.5 328.4 250.0 318.5 249.5 316.2 248.5 314.7 247.5 314.1 246.5 314.4 243.4 318.5 241.5 319.3 240.5 318.5 238.6 314.5 237.7 311.5 236.5 301.0 235.7 298.5 233.8 295.5 232.0 291.5 230.6 290.5 227.5 289.4 226.3 288.5 224.9 286.5 224.5 284.5 225.9 280.5ZM269.5 312.2 268.5 313.6 268.2 316.5 269.3 318.5 270.5 319.0 271.5 318.5 271.9 317.5 272.1 314.5 271.4 312.5 270.5 311.9ZM284.5 311.4 283.5 312.3 283.2 313.5 283.5 315.2 284.5 316.1 285.5 315.4 285.9 313.5 285.5 312.0ZM286.3 300.5 286.5 300.3 287.5 300.4 287.6 300.5 287.5 300.8 286.5 300.9ZM314.3 302.5 315.5 302.2 316.2 302.5 316.5 303.5 317.5 304.0 319.5 303.2 321.0 303.5 322.8 304.5 324.5 306.1 326.5 306.7 329.5 304.2 330.9 303.5 332.5 303.2 334.5 303.9 335.5 303.9 337.5 302.2 339.5 302.0 340.5 302.3 341.5 304.0 346.5 305.5 348.4 305.5 349.5 304.1 352.5 305.2 354.9 307.5 355.5 309.7 358.5 309.5 359.0 311.5 359.5 312.0 362.5 312.5 364.5 312.1 365.8 312.5 367.5 315.6 369.5 320.6 371.9 323.5 373.7 324.5 374.1 326.5 375.9 328.5 377.0 330.5 377.4 332.5 378.1 333.5 378.4 335.5 381.0 342.5 382.4 350.5 384.0 352.5 383.9 358.5 383.5 360.3 382.5 359.7 380.5 357.1 377.7 354.5 373.5 347.2 367.5 340.6 364.2 330.5 363.1 328.5 361.5 327.0 360.5 327.0 359.5 327.6 358.3 329.5 356.5 335.2 355.5 336.1 354.5 336.4 352.5 335.4 350.2 331.5 347.5 328.8 345.5 328.5 342.5 329.6 340.5 329.0 339.5 328.1 337.9 325.5 337.5 320.5 336.5 318.6 335.5 317.8 334.5 317.6 333.5 317.9 332.5 318.7 331.6 320.5 331.0 325.5 330.5 326.6 329.5 327.1 328.5 325.4 327.2 321.5 325.5 319.9 323.5 319.5 322.5 319.8 320.6 321.5 318.8 324.5 319.3 331.5 318.5 335.2 317.5 336.7 316.5 334.1 315.9 330.5 316.4 324.5 316.0 321.5 312.5 313.6 310.5 310.6 309.5 310.3 308.5 312.0 307.2 315.5 305.5 323.3 304.5 325.5 302.5 321.7 300.4 316.5 301.0 312.5 302.8 308.5 303.8 304.5 304.5 303.7 308.5 304.7 310.3 303.5 311.5 303.2 313.5 303.3ZM304.2 329.5 304.5 328.6 305.5 331.4 306.4 339.5 305.8 345.5 305.8 354.5 304.5 363.9 303.5 364.1 302.5 356.5 302.4 343.5 302.6 335.5 303.5 330.7ZM290.4 331.5 291.5 332.0 292.5 334.2 292.8 336.5 292.1 343.5 291.5 345.8 290.5 347.0 289.6 344.5 288.3 336.5 288.9 333.5 289.5 332.2Z"/>
<path fill="#00e0fb" d="M228.3 283.5 231.5 283.2 232.5 283.5 237.1 289.5 239.3 290.5 240.5 293.1 243.6 294.5 246.5 297.5 248.5 297.6 250.5 298.8 252.5 298.7 255.1 299.5 255.8 302.5 256.5 303.8 257.5 304.5 258.5 304.7 259.5 303.9 260.1 301.5 260.8 300.5 261.5 299.5 262.5 299.5 265.5 300.2 267.5 299.6 269.5 300.9 272.5 301.3 274.5 302.4 276.5 302.3 278.5 301.1 279.5 301.1 280.5 301.4 281.5 302.6 282.5 302.9 283.5 302.3 286.5 303.3 287.5 303.0 289.5 301.5 290.5 301.3 292.7 303.5 293.5 306.5 295.7 310.5 296.3 316.5 292.9 321.5 291.5 324.7 290.5 325.4 288.5 324.2 285.3 320.5 285.1 319.5 286.5 316.8 287.1 314.5 287.0 311.5 286.5 310.0 285.5 308.8 284.5 308.2 283.5 308.6 282.2 311.5 282.0 314.5 283.2 319.5 281.2 323.5 280.4 326.5 280.1 335.5 280.5 342.5 279.7 349.5 280.2 357.5 279.5 362.4 278.5 365.5 277.5 365.6 277.1 364.5 276.3 357.5 276.8 349.5 276.4 344.5 276.6 336.5 274.6 327.5 273.5 325.2 271.5 322.6 270.5 322.8 266.5 329.6 265.5 330.3 264.5 330.3 263.5 329.6 262.5 327.9 262.2 326.5 263.4 319.5 263.1 318.5 259.5 313.7 258.5 313.9 257.8 318.5 254.5 326.2 253.5 328.0 252.5 328.9 251.9 328.5 251.2 326.5 250.8 316.5 248.5 312.6 247.5 311.8 246.5 311.7 245.3 312.5 243.8 316.5 242.9 317.5 241.5 318.0 240.5 317.2 238.5 312.5 238.0 310.5 237.4 305.5 237.4 300.5 236.8 298.5 234.0 291.5 232.5 289.2 231.5 288.6 228.5 288.2 227.5 287.7 226.5 286.5 226.6 284.5ZM269.5 310.3 268.5 311.0 267.5 312.5 266.5 317.5 266.8 318.5 270.5 322.3 271.5 322.4 273.1 317.5 273.0 312.5 272.5 310.9 271.5 310.0ZM337.6 302.5 340.3 302.5 341.5 304.5 343.5 304.8 346.5 305.9 347.5 306.1 351.5 305.2 352.5 305.5 354.4 307.5 354.9 309.5 355.5 310.1 357.8 310.5 359.1 312.5 361.5 313.1 362.5 313.0 363.5 312.4 365.5 312.7 367.5 316.2 369.5 321.0 371.6 323.5 373.5 324.8 374.0 326.5 376.9 330.5 377.3 332.5 378.0 333.5 378.3 335.5 380.9 342.5 381.9 346.5 382.3 350.5 383.8 352.5 383.5 359.3 382.5 358.9 378.5 354.5 373.6 346.5 368.4 340.5 367.4 338.5 365.6 332.5 363.5 327.6 361.5 325.7 360.5 325.7 359.5 326.3 358.5 327.6 355.8 334.5 354.5 335.3 352.9 334.5 349.5 329.8 346.5 327.2 345.5 327.2 342.5 328.6 341.5 328.5 340.0 327.5 338.8 325.5 338.7 321.5 338.3 319.5 336.9 317.5 335.5 316.6 333.5 316.4 332.5 316.9 329.5 319.6 328.5 319.7 325.5 318.4 323.5 318.1 321.5 319.1 318.5 322.1 317.5 322.0 314.7 316.5 310.5 305.5 310.5 304.5 311.5 303.7 313.5 303.8 315.5 302.6 316.5 304.3 317.5 304.4 319.7 303.5 321.9 304.5 323.5 306.6 325.5 307.2 327.5 306.7 329.5 305.1 332.5 303.7 335.5 304.5ZM304.4 310.5 305.5 310.2 305.9 310.5 306.5 311.3 306.6 312.5 305.5 318.6 304.5 321.0 303.5 320.5 303.1 319.5 302.2 315.5 302.8 312.5ZM317.5 328.5 318.3 330.5 318.2 331.5 317.5 332.8 317.0 330.5ZM304.4 332.5 305.5 334.8 305.9 338.5 305.3 345.5 305.5 353.5 304.5 357.9 303.5 357.8 303.3 356.5 303.0 343.5 303.2 335.5 303.5 334.0ZM290.0 333.5 290.5 333.1 291.5 333.8 292.2 336.5 291.5 340.6 290.5 341.3 289.5 338.9 289.0 336.5 289.3 334.5Z"/>
<path fill="#00c8ff" d="M234.7 288.5 235.5 288.5 236.5 289.9 238.6 290.5 240.5 294.0 242.6 295.5 244.5 298.1 246.5 299.0 250.5 299.7 252.0 300.5 253.8 304.5 257.2 308.5 257.4 310.5 256.5 314.4 256.2 318.5 253.5 324.6 252.5 324.4 252.1 317.5 251.5 315.5 248.5 309.9 247.5 309.1 246.5 309.2 244.5 310.7 243.5 312.5 242.5 315.8 241.5 316.5 240.5 315.5 239.5 313.4 238.4 309.5 238.1 305.5 238.3 299.5ZM266.8 300.5 267.5 300.3 270.9 301.5 273.5 303.8 274.5 304.0 278.5 301.7 279.5 301.9 282.1 304.5 280.8 312.5 281.8 319.5 279.7 326.5 279.6 335.5 280.1 342.5 279.1 349.5 279.8 356.5 279.5 359.2 278.5 362.2 277.5 361.5 276.7 356.5 277.3 349.5 276.8 343.5 277.2 336.5 275.4 326.5 273.6 322.5 274.2 313.5 273.7 309.5 272.5 307.8 271.5 307.7 268.5 309.3 266.5 311.2 265.5 314.2 264.5 315.5 263.5 315.5 262.5 314.6 261.4 311.5 261.5 309.5 263.0 302.5 263.6 301.5ZM287.2 303.5 288.5 303.0 289.5 303.2 290.9 304.5 291.3 306.5 293.8 309.5 295.0 312.5 294.9 316.5 290.5 322.9 289.5 323.0 288.8 322.5 287.3 320.5 287.2 319.5 288.0 314.5 288.1 309.5 287.0 307.5 284.4 304.5 285.5 303.8ZM337.1 303.5 339.5 302.6 340.3 303.5 340.5 304.5 343.5 305.2 346.5 306.4 349.5 306.2 351.5 305.6 353.5 306.9 354.6 309.5 355.4 310.5 357.5 311.5 358.5 313.1 360.5 314.3 361.5 314.3 364.5 312.9 365.5 313.3 369.5 321.5 371.2 323.5 373.5 325.3 374.4 327.5 376.8 330.5 377.2 332.5 377.9 333.5 378.2 335.5 380.8 342.5 381.7 346.5 382.1 350.5 383.7 352.5 383.5 358.1 382.5 358.1 378.5 353.7 374.9 347.5 368.6 339.5 363.7 326.5 362.5 324.9 361.5 324.3 360.5 324.2 359.5 324.8 357.5 328.2 355.5 333.0 354.5 333.9 353.5 333.6 346.5 325.5 345.5 325.1 342.5 327.4 341.5 327.4 340.5 326.7 339.7 324.5 339.8 321.5 339.4 319.5 337.5 316.8 335.5 315.6 332.5 315.6 328.5 317.6 323.5 316.5 321.5 317.4 318.5 320.1 317.5 319.8 315.5 316.5 313.3 309.5 312.5 305.5 312.8 304.5 315.5 304.0 316.5 304.9 317.5 304.9 319.5 304.0 320.8 304.5 322.5 307.2 323.5 307.9 325.5 308.0 329.5 306.0 331.5 305.4 332.5 304.6 335.5 305.1ZM265.3 321.5 266.9 321.5 267.9 322.5 268.1 323.5 267.7 325.5 266.5 328.0 265.5 328.9 264.5 328.9 263.4 327.5 263.2 325.5 264.4 322.5ZM290.3 335.5 290.5 335.1 290.8 335.5 291.1 336.5 290.5 337.8 290.1 336.5ZM304.1 336.5 304.5 335.5 305.2 338.5 304.5 344.8 303.8 340.5ZM304.4 349.5 304.5 353.7Z"/>
<path fill="#00acff" d="M239.1 295.5 239.5 294.9 241.7 298.5 242.9 299.5 247.7 301.5 248.7 302.5 248.1 304.5 242.7 310.5 241.5 312.9 240.5 312.8 239.5 310.6 239.1 308.5 239.0 304.5 239.8 299.5ZM267.4 301.5 268.6 301.5 270.1 302.5 270.0 304.5 270.4 305.5 268.5 307.4 266.5 308.4 265.5 308.4 264.5 306.7 264.7 304.5 265.9 302.5ZM276.5 304.5 278.5 304.1 279.9 305.5 280.2 307.5 279.6 312.5 280.9 318.5 280.6 320.5 278.6 326.5 279.0 330.5 278.6 336.5 279.6 341.5 279.5 343.8 278.5 347.3 277.5 345.8 277.3 343.5 277.5 339.8 278.3 335.5 277.5 333.6 276.8 330.5 276.9 326.5 274.9 322.5 274.6 320.5 275.6 311.5 275.0 306.5ZM337.0 304.5 337.5 304.0 338.5 303.9 340.5 305.2 343.3 305.5 344.7 306.5 345.5 309.6 346.5 309.9 347.5 308.9 348.1 307.5 351.5 306.2 352.5 306.4 353.5 307.6 354.5 310.1 356.6 311.5 359.5 316.5 360.5 317.5 364.5 314.2 365.5 314.3 367.5 317.4 369.5 322.1 370.7 323.5 372.5 324.6 374.1 327.5 376.7 330.5 378.4 336.5 380.7 342.5 381.6 346.5 382.0 350.5 383.6 352.5 383.5 356.5 382.5 357.3 379.0 353.5 376.1 348.5 369.4 339.5 364.1 325.5 363.5 324.3 360.5 321.8 359.5 322.2 355.5 331.0 354.5 332.1 353.5 332.1 351.5 330.3 348.4 326.5 345.5 319.6 344.5 319.5 343.4 320.5 342.8 321.5 342.8 324.5 342.5 325.1 341.5 325.1 341.3 323.5 342.0 321.5 340.2 318.5 337.3 315.5 335.5 314.7 333.5 314.5 329.5 315.6 327.5 315.8 324.9 314.5 323.8 313.5 323.5 312.5 323.8 311.5 327.0 308.5 332.5 305.7 333.5 305.4 335.5 305.7ZM315.3 305.5 319.5 304.8 320.1 305.5 321.1 308.5 321.6 313.5 320.1 316.5 318.5 318.1 317.5 317.8 316.7 316.5 315.7 312.5 314.2 308.5 314.0 306.5 314.5 305.7ZM251.0 307.5 251.5 307.0 252.5 306.8 253.5 307.2 254.5 308.0 255.4 309.5 255.5 311.5 254.5 316.3 253.5 316.3 250.9 311.5 250.4 309.5ZM289.7 310.5 290.5 309.7 292.5 310.2 293.6 311.5 294.0 313.5 293.5 316.7 290.5 319.8 289.5 319.8 288.9 317.5 289.2 312.5ZM265.0 325.5 265.5 324.7 265.8 325.5 265.5 326.5 265.5 326.5 265.4 326.5ZM278.2 351.5 278.5 351.1 279.2 355.5 278.5 359.1 277.5 358.0 277.2 355.5 277.5 352.3Z"/>
<path fill="#0090ff" d="M240.7 302.5 241.5 301.7 242.5 301.6 244.5 302.4 245.3 303.5 245.3 304.5 244.3 306.5 241.5 309.0 240.5 308.7 239.9 306.5 240.0 304.5ZM337.1 305.5 337.5 305.1 338.5 305.0 340.5 305.9 342.5 305.9 343.4 306.5 344.5 311.5 345.5 313.4 346.5 312.9 347.5 311.8 350.5 307.5 351.5 307.2 352.5 307.5 353.5 308.7 354.2 310.5 356.5 312.5 358.2 316.5 358.1 321.5 356.9 326.5 355.5 329.5 354.5 330.7 353.5 330.9 352.5 330.4 349.1 326.5 347.8 323.5 346.5 317.7 345.5 316.1 344.5 316.2 342.5 317.4 341.5 317.4 338.5 315.2 335.5 313.9 332.5 313.6 329.5 313.9 328.5 313.8 327.5 313.2 327.1 311.5 327.5 310.5 329.4 308.5 333.5 306.3 335.5 306.2ZM316.4 306.5 317.5 306.6 318.5 307.1 319.2 308.5 318.5 309.9 317.5 310.4 316.5 310.0 315.5 308.5 315.3 307.5ZM290.6 312.5 291.5 312.0 292.2 312.5 292.7 313.5 292.5 315.4 291.5 316.6 290.5 316.4 290.3 315.5ZM276.6 314.5 277.5 313.6 278.5 314.3 279.5 316.3 279.9 318.5 279.4 321.5 278.5 323.2 277.5 323.7 276.5 323.0 275.6 320.5 275.8 317.5ZM363.7 316.5 365.5 315.7 366.5 316.4 367.5 318.0 369.2 322.5 370.5 323.9 372.5 325.2 373.8 327.5 376.6 330.5 378.2 336.5 380.5 342.5 381.5 346.6 381.9 350.5 383.4 352.5 383.4 354.5 382.5 356.3 381.5 355.6 378.9 352.5 376.5 348.1 369.5 338.5 365.8 328.5 364.8 324.5 362.3 320.5 362.4 318.5ZM278.5 340.5 278.5 344.2 278.2 342.5Z"/>
<path fill="#0078ff" d="M336.0 306.5 338.5 305.7 341.6 306.5 342.5 307.1 343.2 309.5 343.1 311.5 342.7 313.5 341.9 314.5 340.5 314.7 330.3 311.5 330.2 310.5 331.8 308.5 333.5 307.3ZM350.5 309.5 351.5 308.8 352.5 308.9 355.7 312.5 356.8 314.5 357.3 316.5 356.6 325.5 355.3 328.5 354.5 329.5 353.5 329.8 351.5 328.6 349.3 325.5 347.3 316.5 347.8 313.5ZM277.2 317.5 277.5 317.0 278.5 317.5 278.7 318.5 278.5 320.4 277.5 321.1 276.9 319.5ZM364.7 317.5 365.5 317.2 366.5 317.5 367.5 318.5 368.0 322.5 368.6 323.5 372.5 326.2 376.5 330.7 376.8 332.5 377.5 333.5 378.1 336.5 380.3 342.5 381.7 350.5 383.0 352.5 382.5 355.2 381.5 354.8 379.5 352.5 376.5 347.2 370.1 338.5 366.5 328.5 365.9 323.5 363.8 320.5 363.9 318.5Z"/>
<path fill="#005cff" d="M337.4 306.5 339.5 306.7 341.3 307.5 342.1 308.5 341.8 311.5 340.5 312.9 338.5 312.9 336.5 312.5 333.9 311.5 332.9 310.5 333.0 309.5 333.8 308.5 334.9 307.5ZM351.4 310.5 352.5 310.4 354.8 312.5 356.0 314.5 356.6 316.5 355.9 325.5 354.5 328.3 353.5 328.8 352.5 328.6 351.5 327.8 349.9 325.5 349.0 322.5 348.3 317.5 348.2 315.5 348.8 313.5 350.5 311.1ZM367.4 326.5 368.5 325.7 371.5 326.8 375.5 329.9 376.5 331.2 380.1 342.5 381.2 349.5 382.7 352.5 382.5 353.7 381.5 353.8 380.5 352.9 376.5 346.3 370.6 338.5 367.4 328.5Z"/>
<path fill="#0044ff" d="M336.5 307.5 338.5 307.1 339.7 307.5 340.9 308.5 341.1 309.5 340.5 311.1 338.5 311.8 336.5 311.4 335.0 310.5 334.8 309.5 335.3 308.5ZM350.5 312.5 351.5 311.7 352.5 311.7 353.5 312.2 355.3 314.5 355.9 316.5 355.4 324.5 354.5 327.1 353.5 327.8 352.5 327.6 351.3 326.5 350.2 324.5 349.6 322.5 349.0 315.5ZM368.8 328.5 369.5 327.7 371.5 328.2 375.5 330.5 376.5 331.9 379.7 341.5 380.7 346.5 380.8 349.5 381.6 351.5 381.5 352.4 379.5 350.4 376.5 345.5 373.5 342.0 371.2 338.5 370.2 335.5Z"/>
<path fill="#0028ff" d="M337.2 308.5 338.5 308.1 339.4 308.5 339.7 309.5 338.5 310.5 337.5 310.3 336.7 309.5ZM350.9 313.5 352.5 312.8 353.5 313.3 354.5 314.6 355.1 316.5 354.6 324.5 353.5 326.6 352.5 326.5 351.5 325.5 350.3 322.5 349.6 316.5 350.2 314.5ZM370.9 330.5 371.5 330.0 373.5 330.3 375.5 331.5 376.5 332.9 378.5 338.3 378.9 340.5 379.6 341.5 380.3 347.5 380.1 348.5 379.5 348.7 378.5 347.5 371.7 338.5 370.6 334.5Z"/>
<path fill="#0010ff" d="M351.4 314.5 352.5 314.1 353.5 314.7 354.5 317.5 353.8 323.5 353.5 324.4 352.5 324.8 351.5 323.4 350.4 318.5 350.5 316.1ZM371.7 332.5 372.5 331.6 373.5 331.6 375.5 332.7 376.5 334.1 379.4 342.5 379.3 344.5 378.5 345.9 374.5 341.7 372.3 338.5 371.4 335.5Z"/>
<path fill="#0000ff" d="M351.6 316.5 352.5 315.9 353.5 317.5 353.3 319.5 352.5 321.3 351.5 319.4ZM372.6 333.5 373.5 333.0 374.5 333.2 376.5 335.6 378.5 340.6 378.5 343.7 377.5 343.7 373.5 339.5 372.2 336.5 372.2 334.5Z"/>
<path fill="#0000e3" d="M373.2 335.5 373.5 334.8 374.5 334.7 375.5 335.6 377.5 339.7 377.5 341.8 374.4 339.5 373.3 337.5Z"/>
</g>
<g stroke="#000" stroke-width="1.11" fill="none" stroke-linecap="butt">
<rect x="150.5" y="84.5" width="744" height="539"/>
<line x1="212.5" y1="623" x2="212.5" y2="628.5"/><line x1="336.5" y1="623" x2="336.5" y2="628.5"/><line x1="460.5" y1="623" x2="460.5" y2="628.5"/><line x1="584.5" y1="623" x2="584.5" y2="628.5"/><line x1="708.5" y1="623" x2="708.5" y2="628.5"/><line x1="832.5" y1="623" x2="832.5" y2="628.5"/><line x1="145.5" y1="129.5" x2="150" y2="129.5"/><line x1="145.5" y1="241.5" x2="150" y2="241.5"/><line x1="145.5" y1="354.5" x2="150" y2="354.5"/><line x1="145.5" y1="466.5" x2="150" y2="466.5"/><line x1="145.5" y1="578.5" x2="150" y2="578.5"/>
</g>
<g><g shape-rendering="crispEdges"><rect x="941" y="84" width="27" height="14" fill="#8d0000"/><rect x="941" y="98" width="27" height="14" fill="#a80000"/><rect x="941" y="112" width="27" height="14" fill="#c80000"/><rect x="941" y="126" width="27" height="14" fill="#e40000"/><rect x="941" y="140" width="27" height="14" fill="#ff1600"/><rect x="941" y="154" width="27" height="13" fill="#ff3000"/><rect x="941" y="167" width="27" height="14" fill="#ff4700"/><rect x="941" y="181" width="27" height="14" fill="#ff6000"/><rect x="941" y="195" width="27" height="14" fill="#ff7700"/><rect x="941" y="209" width="27" height="14" fill="#ff9100"/><rect x="941" y="223" width="27" height="14" fill="#ffa700"/><rect x="941" y="237" width="27" height="13" fill="#ffc100"/><rect x="941" y="250" width="27" height="14" fill="#ffdb00"/><rect x="941" y="264" width="27" height="14" fill="#fbf100"/><rect x="941" y="278" width="27" height="14" fill="#e4ff13"/><rect x="941" y="292" width="27" height="14" fill="#d1ff26"/><rect x="941" y="306" width="27" height="13" fill="#baff3c"/><rect x="941" y="319" width="27" height="14" fill="#a7ff50"/><rect x="941" y="333" width="27" height="14" fill="#90ff66"/><rect x="941" y="347" width="27" height="14" fill="#7dff7a"/><rect x="941" y="361" width="27" height="14" fill="#66ff90"/><rect x="941" y="375" width="27" height="14" fill="#50ffa7"/><rect x="941" y="389" width="27" height="13" fill="#3cffba"/><rect x="941" y="402" width="27" height="14" fill="#26ffd1"/><rect x="941" y="416" width="27" height="14" fill="#13fce4"/><rect x="941" y="430" width="27" height="14" fill="#00e0fb"/><rect x="941" y="444" width="27" height="14" fill="#00c8ff"/><rect x="941" y="458" width="27" height="13" fill="#00acff"/><rect x="941" y="471" width="27" height="14" fill="#0090ff"/><rect x="941" y="485" width="27" height="14" fill="#0078ff"/><rect x="941" y="499" width="27" height="14" fill="#005cff"/><rect x="941" y="513" width="27" height="14" fill="#0044ff"/><rect x="941" y="527" width="27" height="14" fill="#0028ff"/><rect x="941" y="541" width="27" height="13" fill="#0010ff"/><rect x="941" y="554" width="27" height="14" fill="#0000ff"/><rect x="941" y="568" width="27" height="14" fill="#0000e3"/><rect x="941" y="582" width="27" height="14" fill="#0000c8"/><rect x="941" y="596" width="27" height="14" fill="#0000a8"/><rect x="941" y="610" width="27" height="13" fill="#00008d"/></g></g>
<g stroke="#000" stroke-width="1.11" fill="none">
<rect x="941.5" y="84.5" width="26" height="539"/>
<line x1="967" y1="84.5" x2="972.5" y2="84.5"/><line x1="967" y1="219.5" x2="972.5" y2="219.5"/><line x1="967" y1="354.5" x2="972.5" y2="354.5"/><line x1="967" y1="488.5" x2="972.5" y2="488.5"/><line x1="967" y1="623.5" x2="972.5" y2="623.5"/>
</g>
<g fill="#000">
<text font-family='"Liberation Mono", monospace' font-size="29.23" text-anchor="middle" textLength="467.00" lengthAdjust="spacingAndGlyphs" x="522.50" y="76.00">bz_averaged at 200.100064 fs</text>
<text font-family='"Liberation Mono", monospace' font-size="30.94" text-anchor="middle" textLength="16.50" lengthAdjust="spacingAndGlyphs" x="477.50" y="690.00">X</text>
<text font-family='"Liberation Mono", monospace' font-size="27.78" text-anchor="middle" textLength="13.20" lengthAdjust="spacingAndGlyphs" x="510.50" y="688.00">[</text>
<text font-family='"Liberation Sans", sans-serif' font-size="29.43" text-anchor="middle" font-style="italic" textLength="16.56" lengthAdjust="spacingAndGlyphs" x="527.50" y="690.00">μ</text>
<text font-family='"Liberation Sans", sans-serif' font-size="29.63" text-anchor="middle" font-style="italic" textLength="25.34" lengthAdjust="spacingAndGlyphs" x="549.50" y="690.00">m</text>
<text font-family='"Liberation Mono", monospace' font-size="27.78" text-anchor="middle" textLength="11.46" lengthAdjust="spacingAndGlyphs" x="571.50" y="688.00">]</text>
<text font-family='"Liberation Mono", monospace' font-size="30.94" text-anchor="middle" textLength="16.50" lengthAdjust="spacingAndGlyphs" transform="translate(67.00 398.50) rotate(-90)">Y</text>
<text font-family='"Liberation Mono", monospace' font-size="27.78" text-anchor="middle" textLength="13.20" lengthAdjust="spacingAndGlyphs" transform="translate(65.00 365.50) rotate(-90)">[</text>
<text font-family='"Liberation Sans", sans-serif' font-size="29.10" text-anchor="middle" font-style="italic" textLength="16.56" lengthAdjust="spacingAndGlyphs" transform="translate(67.00 348.50) rotate(-90)">μ</text>
<text font-family='"Liberation Sans", sans-serif' font-size="29.63" text-anchor="middle" font-style="italic" textLength="25.34" lengthAdjust="spacingAndGlyphs" transform="translate(67.00 326.50) rotate(-90)">m</text>
<text font-family='"Liberation Mono", monospace' font-size="27.78" text-anchor="middle" textLength="11.46" lengthAdjust="spacingAndGlyphs" transform="translate(65.00 305.00) rotate(-90)">]</text>
<text font-family='"Liberation Mono", monospace' font-size="30.94" text-anchor="middle" textLength="419.05" lengthAdjust="spacingAndGlyphs" transform="translate(1068.00 355.00) rotate(-90)">Normalized magnetic field</text>
<text font-family='"Liberation Sans", sans-serif' font-size="30.91" text-anchor="middle" textLength="15.42" lengthAdjust="spacingAndGlyphs" x="213.00" y="655.00">0</text>
<text font-family='"Liberation Sans", sans-serif' font-size="30.91" text-anchor="middle" textLength="33.22" lengthAdjust="spacingAndGlyphs" x="335.00" y="655.00">10</text>
<text font-family='"Liberation Sans", sans-serif' font-size="30.91" text-anchor="middle" textLength="33.29" lengthAdjust="spacingAndGlyphs" x="459.50" y="655.00">20</text>
<text font-family='"Liberation Sans", sans-serif' font-size="30.91" text-anchor="middle" textLength="33.25" lengthAdjust="spacingAndGlyphs" x="583.50" y="655.00">30</text>
<text font-family='"Liberation Sans", sans-serif' font-size="30.91" text-anchor="middle" textLength="33.25" lengthAdjust="spacingAndGlyphs" x="707.50" y="655.00">40</text>
<text font-family='"Liberation Sans", sans-serif' font-size="30.91" text-anchor="middle" textLength="32.18" lengthAdjust="spacingAndGlyphs" x="830.50" y="655.00">50</text>
<text font-family='"Liberation Sans", sans-serif' font-size="30.91" text-anchor="middle" textLength="57.35" lengthAdjust="spacingAndGlyphs" x="112.00" y="589.00">−10</text>
<text font-family='"Liberation Sans", sans-serif' font-size="30.91" text-anchor="middle" textLength="38.68" lengthAdjust="spacingAndGlyphs" x="119.00" y="477.00">−5</text>
<text font-family='"Liberation Sans", sans-serif' font-size="30.91" text-anchor="middle" textLength="16.00" lengthAdjust="spacingAndGlyphs" x="132.00" y="364.00">0</text>
<text font-family='"Liberation Sans", sans-serif' font-size="30.91" text-anchor="middle" textLength="15.34" lengthAdjust="spacingAndGlyphs" x="131.50" y="252.00">5</text>
<text font-family='"Liberation Sans", sans-serif' font-size="30.91" text-anchor="middle" textLength="33.22" lengthAdjust="spacingAndGlyphs" x="122.00" y="140.00">10</text>
<text font-family='"Liberation Sans", sans-serif' font-size="23.20" text-anchor="middle" textLength="43.83" lengthAdjust="spacingAndGlyphs" x="1001.00" y="92.00">63.3</text>
<text font-family='"Liberation Sans", sans-serif' font-size="23.20" text-anchor="middle" textLength="44.05" lengthAdjust="spacingAndGlyphs" x="1001.00" y="227.00">31.7</text>
<text font-family='"Liberation Sans", sans-serif' font-size="23.20" text-anchor="middle" textLength="31.76" lengthAdjust="spacingAndGlyphs" x="994.00" y="362.00">0.0</text>
<text font-family='"Liberation Sans", sans-serif' font-size="23.20" text-anchor="middle" textLength="60.66" lengthAdjust="spacingAndGlyphs" x="1008.50" y="496.00">−31.7</text>
<text font-family='"Liberation Sans", sans-serif' font-size="23.20" text-anchor="middle" textLength="62.19" lengthAdjust="spacingAndGlyphs" x="1008.50" y="631.00">−63.3</text>
</g>
</svg>
</body></html>
